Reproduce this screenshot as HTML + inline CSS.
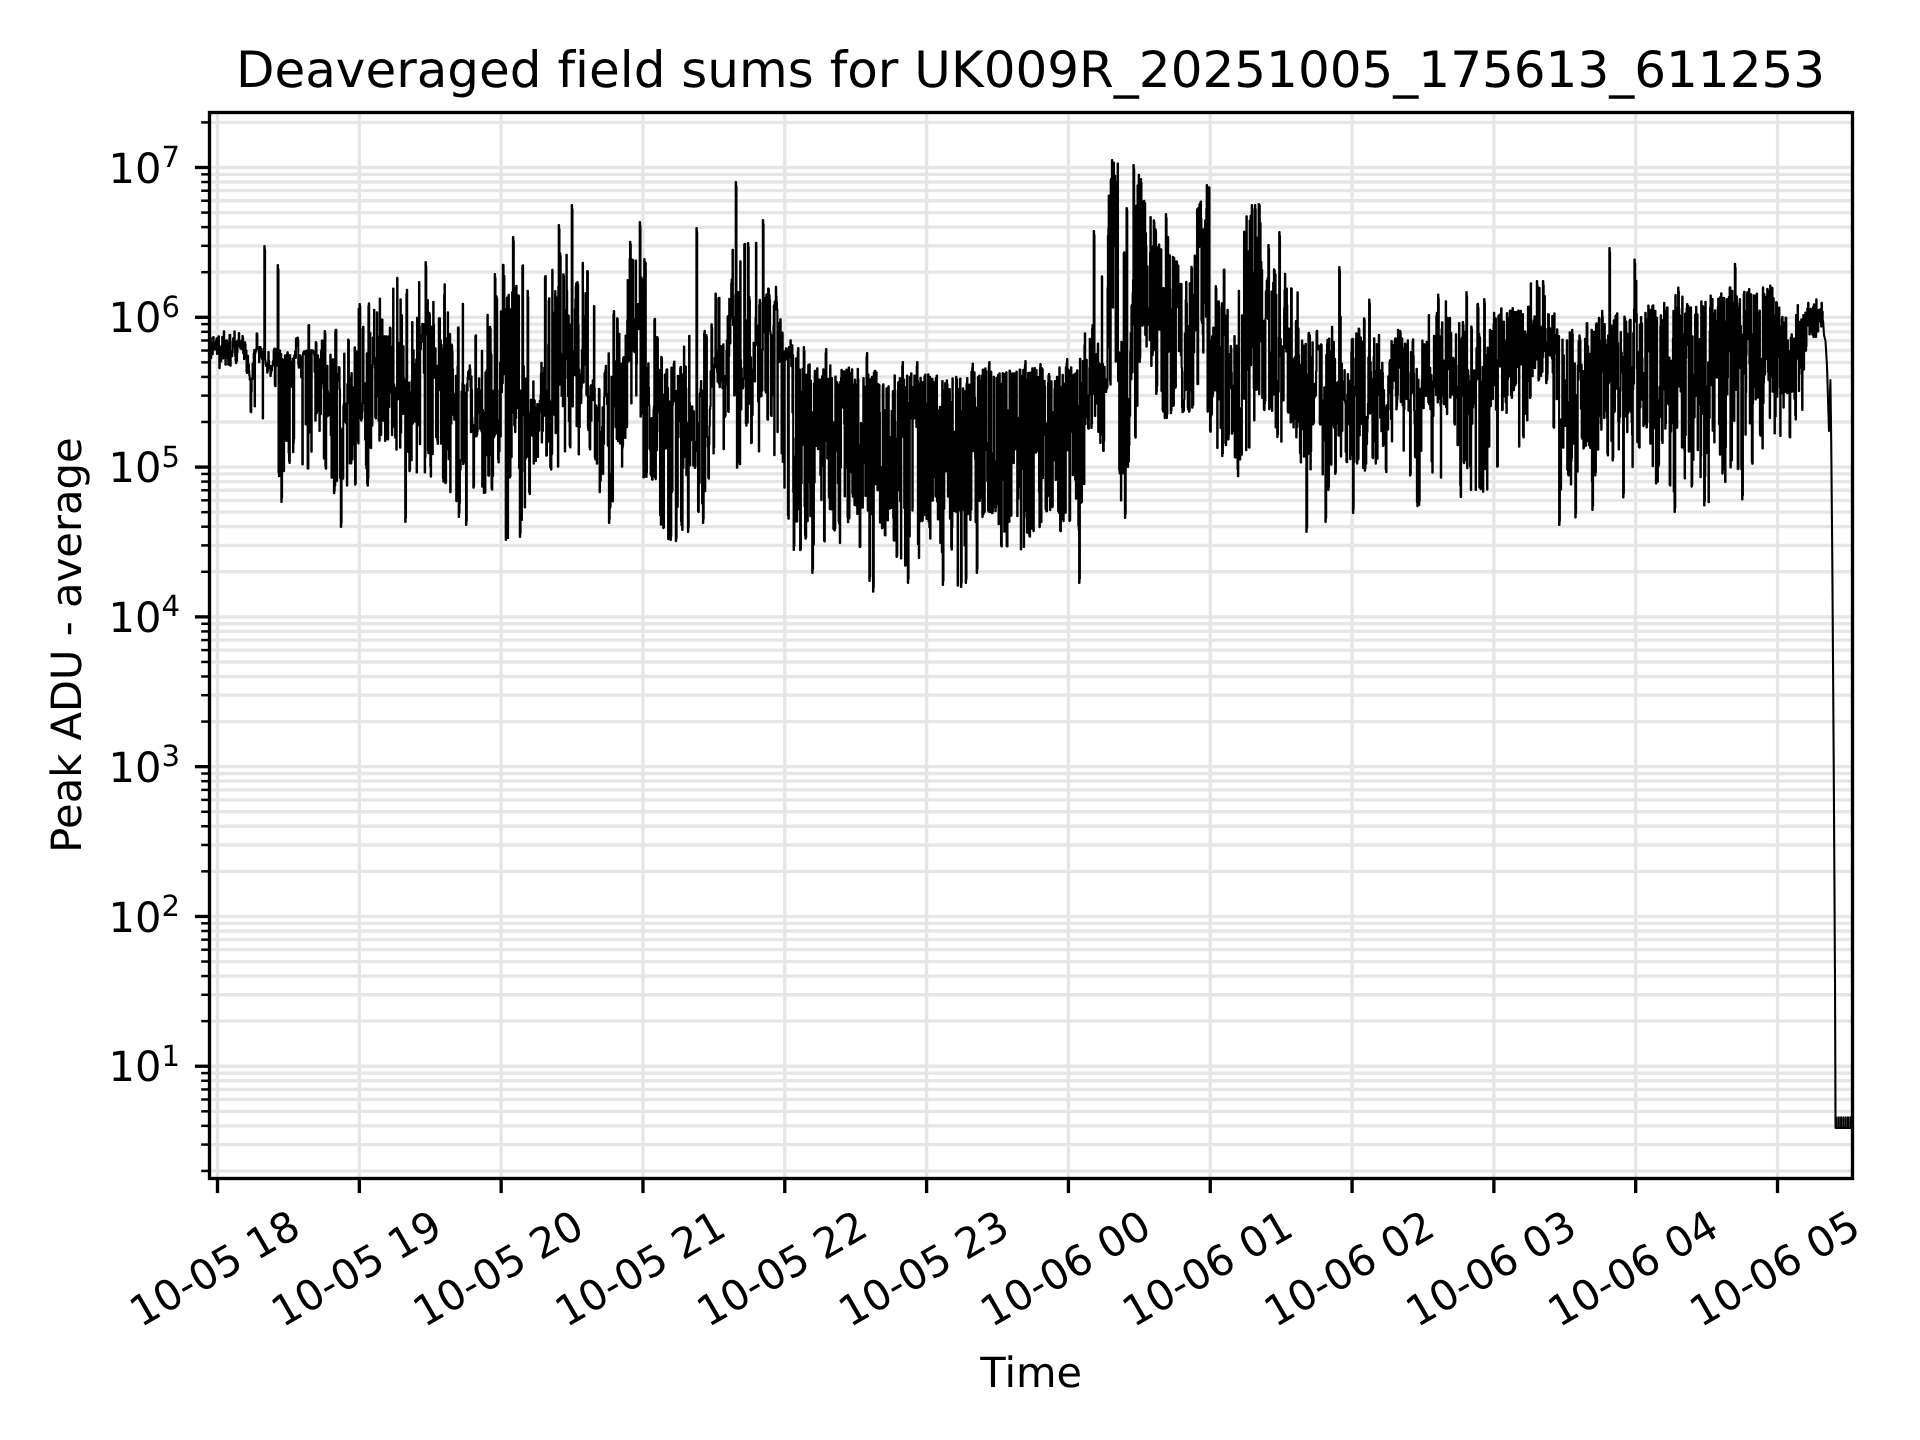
<!DOCTYPE html>
<html lang="en"><head><meta charset="utf-8"><title>Deaveraged field sums for UK009R_20251005_175613_611253</title>
<style>html,body{margin:0;padding:0;background:#fff;}svg{display:block;will-change:transform;}text{font-family:"DejaVu Sans", "Liberation Sans", sans-serif;fill:#000;text-rendering:geometricPrecision;font-variant-ligatures:none;font-feature-settings:"liga" 0,"clig" 0;}</style></head><body>
<svg width="1920" height="1440" viewBox="0 0 1920 1440">
<rect x="0" y="0" width="1920" height="1440" fill="#ffffff"/>
<defs><clipPath id="ax"><rect x="209.50" y="112.50" width="1643.00" height="1066.00"/></clipPath></defs>
<g clip-path="url(#ax)" stroke="#e6e6e6" stroke-width="3.33" fill="none">
<line x1="217.50" y1="112.50" x2="217.50" y2="1178.50"/>
<line x1="359.32" y1="112.50" x2="359.32" y2="1178.50"/>
<line x1="501.14" y1="112.50" x2="501.14" y2="1178.50"/>
<line x1="642.96" y1="112.50" x2="642.96" y2="1178.50"/>
<line x1="784.78" y1="112.50" x2="784.78" y2="1178.50"/>
<line x1="926.60" y1="112.50" x2="926.60" y2="1178.50"/>
<line x1="1068.42" y1="112.50" x2="1068.42" y2="1178.50"/>
<line x1="1210.24" y1="112.50" x2="1210.24" y2="1178.50"/>
<line x1="1352.06" y1="112.50" x2="1352.06" y2="1178.50"/>
<line x1="1493.88" y1="112.50" x2="1493.88" y2="1178.50"/>
<line x1="1635.70" y1="112.50" x2="1635.70" y2="1178.50"/>
<line x1="1777.52" y1="112.50" x2="1777.52" y2="1178.50"/>
<line x1="209.50" y1="1066.24" x2="1852.50" y2="1066.24"/>
<line x1="209.50" y1="916.45" x2="1852.50" y2="916.45"/>
<line x1="209.50" y1="766.66" x2="1852.50" y2="766.66"/>
<line x1="209.50" y1="616.87" x2="1852.50" y2="616.87"/>
<line x1="209.50" y1="467.08" x2="1852.50" y2="467.08"/>
<line x1="209.50" y1="317.29" x2="1852.50" y2="317.29"/>
<line x1="209.50" y1="167.50" x2="1852.50" y2="167.50"/>
<line x1="209.50" y1="1170.94" x2="1852.50" y2="1170.94"/>
<line x1="209.50" y1="1144.56" x2="1852.50" y2="1144.56"/>
<line x1="209.50" y1="1125.85" x2="1852.50" y2="1125.85"/>
<line x1="209.50" y1="1111.33" x2="1852.50" y2="1111.33"/>
<line x1="209.50" y1="1099.47" x2="1852.50" y2="1099.47"/>
<line x1="209.50" y1="1089.44" x2="1852.50" y2="1089.44"/>
<line x1="209.50" y1="1080.76" x2="1852.50" y2="1080.76"/>
<line x1="209.50" y1="1073.09" x2="1852.50" y2="1073.09"/>
<line x1="209.50" y1="1021.15" x2="1852.50" y2="1021.15"/>
<line x1="209.50" y1="994.77" x2="1852.50" y2="994.77"/>
<line x1="209.50" y1="976.06" x2="1852.50" y2="976.06"/>
<line x1="209.50" y1="961.54" x2="1852.50" y2="961.54"/>
<line x1="209.50" y1="949.68" x2="1852.50" y2="949.68"/>
<line x1="209.50" y1="939.65" x2="1852.50" y2="939.65"/>
<line x1="209.50" y1="930.97" x2="1852.50" y2="930.97"/>
<line x1="209.50" y1="923.30" x2="1852.50" y2="923.30"/>
<line x1="209.50" y1="871.36" x2="1852.50" y2="871.36"/>
<line x1="209.50" y1="844.98" x2="1852.50" y2="844.98"/>
<line x1="209.50" y1="826.27" x2="1852.50" y2="826.27"/>
<line x1="209.50" y1="811.75" x2="1852.50" y2="811.75"/>
<line x1="209.50" y1="799.89" x2="1852.50" y2="799.89"/>
<line x1="209.50" y1="789.86" x2="1852.50" y2="789.86"/>
<line x1="209.50" y1="781.18" x2="1852.50" y2="781.18"/>
<line x1="209.50" y1="773.51" x2="1852.50" y2="773.51"/>
<line x1="209.50" y1="721.57" x2="1852.50" y2="721.57"/>
<line x1="209.50" y1="695.19" x2="1852.50" y2="695.19"/>
<line x1="209.50" y1="676.48" x2="1852.50" y2="676.48"/>
<line x1="209.50" y1="661.96" x2="1852.50" y2="661.96"/>
<line x1="209.50" y1="650.10" x2="1852.50" y2="650.10"/>
<line x1="209.50" y1="640.07" x2="1852.50" y2="640.07"/>
<line x1="209.50" y1="631.39" x2="1852.50" y2="631.39"/>
<line x1="209.50" y1="623.72" x2="1852.50" y2="623.72"/>
<line x1="209.50" y1="571.78" x2="1852.50" y2="571.78"/>
<line x1="209.50" y1="545.40" x2="1852.50" y2="545.40"/>
<line x1="209.50" y1="526.69" x2="1852.50" y2="526.69"/>
<line x1="209.50" y1="512.17" x2="1852.50" y2="512.17"/>
<line x1="209.50" y1="500.31" x2="1852.50" y2="500.31"/>
<line x1="209.50" y1="490.28" x2="1852.50" y2="490.28"/>
<line x1="209.50" y1="481.60" x2="1852.50" y2="481.60"/>
<line x1="209.50" y1="473.93" x2="1852.50" y2="473.93"/>
<line x1="209.50" y1="421.99" x2="1852.50" y2="421.99"/>
<line x1="209.50" y1="395.61" x2="1852.50" y2="395.61"/>
<line x1="209.50" y1="376.90" x2="1852.50" y2="376.90"/>
<line x1="209.50" y1="362.38" x2="1852.50" y2="362.38"/>
<line x1="209.50" y1="350.52" x2="1852.50" y2="350.52"/>
<line x1="209.50" y1="340.49" x2="1852.50" y2="340.49"/>
<line x1="209.50" y1="331.81" x2="1852.50" y2="331.81"/>
<line x1="209.50" y1="324.14" x2="1852.50" y2="324.14"/>
<line x1="209.50" y1="272.20" x2="1852.50" y2="272.20"/>
<line x1="209.50" y1="245.82" x2="1852.50" y2="245.82"/>
<line x1="209.50" y1="227.11" x2="1852.50" y2="227.11"/>
<line x1="209.50" y1="212.59" x2="1852.50" y2="212.59"/>
<line x1="209.50" y1="200.73" x2="1852.50" y2="200.73"/>
<line x1="209.50" y1="190.70" x2="1852.50" y2="190.70"/>
<line x1="209.50" y1="182.02" x2="1852.50" y2="182.02"/>
<line x1="209.50" y1="174.35" x2="1852.50" y2="174.35"/>
<line x1="209.50" y1="122.41" x2="1852.50" y2="122.41"/>
</g>
<g clip-path="url(#ax)"><polyline fill="none" stroke="#000" stroke-width="2.08" stroke-linejoin="round" stroke-linecap="butt" points="209.6,353.9 210.0,353.9 210.0,343.6 210.4,343.6 210.4,337.9 210.8,337.9 210.8,358.3 211.2,358.3 211.2,348.2 211.6,348.2 211.6,353.2 212.0,353.2 212.0,342.9 212.4,342.9 212.4,354.2 212.8,354.2 212.8,347.9 213.2,347.9 213.2,337.0 213.7,337.0 213.7,342.4 214.1,342.4 214.1,349.8 214.5,349.8 214.5,348.6 214.9,348.6 214.9,344.6 215.3,344.6 215.3,349.2 215.7,349.2 215.7,345.5 216.1,345.5 216.1,340.6 216.5,340.6 216.5,338.4 216.9,338.4 216.9,354.0 217.3,354.0 217.3,351.3 217.7,351.3 217.7,351.7 218.1,351.7 218.1,352.1 218.5,352.1 218.5,336.3 218.9,336.3 218.9,345.6 219.3,345.6 219.3,368.2 219.7,368.2 219.7,347.0 220.1,347.0 220.1,354.8 220.5,354.8 220.5,359.4 220.9,359.4 220.9,361.4 221.3,361.4 221.3,349.0 221.8,349.0 221.8,345.6 222.2,345.6 222.2,336.9 222.6,336.9 222.6,342.7 223.0,342.7 223.0,358.5 223.4,358.5 223.4,346.6 223.8,346.6 223.8,331.2 224.2,331.2 224.2,340.3 224.6,340.3 224.6,353.0 225.0,353.0 225.0,348.3 225.4,348.3 225.4,364.7 225.8,364.7 225.8,354.2 226.2,354.2 226.2,351.3 226.6,351.3 226.6,340.2 227.0,340.2 227.0,341.8 227.4,341.8 227.4,353.3 227.8,353.3 227.8,358.6 228.2,358.6 228.2,364.7 228.6,364.7 228.6,362.9 229.0,362.9 229.0,359.8 229.4,359.8 229.4,335.0 229.9,335.0 229.9,334.9 230.3,334.9 230.3,365.8 230.7,365.8 230.7,351.5 231.1,351.5 231.1,356.1 231.5,356.1 231.5,351.3 231.9,351.3 231.9,356.2 232.3,356.2 232.3,352.6 232.7,352.6 232.7,341.3 233.1,341.3 233.1,338.2 233.5,338.2 233.5,347.1 233.9,347.1 233.9,343.5 234.3,343.5 234.3,331.2 234.7,331.2 234.7,344.2 235.1,344.2 235.1,356.3 235.5,356.3 235.5,360.8 235.9,360.8 235.9,363.1 236.3,363.1 236.3,341.3 236.7,341.3 236.7,360.8 237.1,360.8 237.1,352.7 237.5,352.7 237.5,342.2 238.0,342.2 238.0,341.7 238.4,341.7 238.4,339.0 238.8,339.0 238.8,333.1 239.2,333.1 239.2,341.4 239.6,341.4 239.6,346.8 240.0,346.8 240.0,345.9 240.4,345.9 240.4,348.8 240.8,348.8 240.8,347.1 241.2,347.1 241.2,341.3 241.6,341.3 241.6,340.0 242.0,340.0 242.0,349.4 242.4,349.4 242.4,336.0 242.8,336.0 242.8,338.0 243.2,338.0 243.2,353.3 243.6,353.3 243.6,354.1 244.0,354.1 244.0,359.1 244.4,359.1 244.4,355.4 244.8,355.4 244.8,342.2 245.2,342.2 245.2,344.4 245.6,344.4 245.6,351.2 246.1,351.2 246.1,350.5 246.5,350.5 246.5,371.9 246.9,371.9 246.9,372.9 247.3,372.9 247.3,359.0 247.7,359.0 247.7,355.9 248.1,355.9 248.1,365.2 248.5,365.2 248.5,364.4 248.9,364.4 248.9,371.2 249.3,371.2 249.3,375.7 249.7,375.7 249.7,379.8 250.1,379.8 250.1,380.3 250.5,380.3 250.5,411.5 250.9,411.5 250.9,412.3 251.3,412.3 251.3,391.7 251.7,391.7 251.7,378.0 252.1,378.0 252.1,379.2 252.5,379.2 252.5,363.6 252.9,363.6 252.9,364.1 253.3,364.1 253.3,364.4 253.7,364.4 253.7,353.2 254.2,353.2 254.2,350.0 254.6,350.0 254.6,406.5 255.0,406.5 255.0,354.1 255.4,354.1 255.4,351.9 255.8,351.9 255.8,349.7 256.2,349.7 256.2,348.7 256.6,348.7 256.6,333.4 257.0,333.4 257.0,333.9 257.4,333.9 257.4,348.1 257.8,348.1 257.8,347.1 258.2,347.1 258.2,349.7 258.6,349.7 258.6,351.9 259.0,351.9 259.0,362.2 259.4,362.2 259.4,349.3 259.8,349.3 259.8,347.0 260.2,347.0 260.2,347.0 260.6,347.0 260.6,352.0 261.0,352.0 261.0,348.9 261.4,348.9 261.4,356.9 261.8,356.9 261.8,358.6 262.3,358.6 262.3,360.0 262.7,360.0 262.7,418.4 263.1,418.4 263.1,353.4 263.5,353.4 263.5,351.3 263.9,351.3 263.9,348.4 264.3,348.4 264.3,246.0 264.7,246.0 264.7,250.0 265.1,250.0 265.1,360.0 265.5,360.0 265.5,363.9 265.9,363.9 265.9,366.0 266.3,366.0 266.3,366.3 266.7,366.3 266.7,363.6 267.1,363.6 267.1,372.8 267.5,372.8 267.5,371.2 267.9,371.2 267.9,365.5 268.3,365.5 268.3,352.1 268.7,352.1 268.7,360.9 269.1,360.9 269.1,367.0 269.5,367.0 269.5,368.2 269.9,368.2 269.9,365.7 270.4,365.7 270.4,375.9 270.8,375.9 270.8,373.7 271.2,373.7 271.2,367.2 271.6,367.2 271.6,370.5 272.0,370.5 272.0,366.6 272.4,366.6 272.4,365.5 272.8,365.5 272.8,361.9 273.2,361.9 273.2,360.5 273.6,360.5 273.6,350.9 274.0,350.9 274.0,349.2 274.4,349.2 274.4,348.5 274.8,348.5 274.8,384.9 275.2,384.9 275.2,386.3 275.6,386.3 275.6,351.6 276.0,351.6 276.0,349.2 276.4,349.2 276.4,364.7 276.8,364.7 276.8,362.9 277.2,362.9 277.2,365.7 277.6,365.7 277.6,265.0 278.0,265.0 278.0,269.0 278.5,269.0 278.5,472.5 278.9,472.5 278.9,476.2 279.3,476.2 279.3,357.5 279.7,357.5 279.7,350.6 280.1,350.6 280.1,363.0 280.5,363.0 280.5,355.9 280.9,355.9 280.9,354.0 281.3,354.0 281.3,502.0 281.7,502.0 281.7,498.0 282.1,498.0 282.1,359.0 282.5,359.0 282.5,360.0 282.9,360.0 282.9,378.4 283.3,378.4 283.3,378.7 283.7,378.7 283.7,471.1 284.1,471.1 284.1,364.3 284.5,364.3 284.5,374.9 284.9,374.9 284.9,355.3 285.3,355.3 285.3,356.4 285.7,356.4 285.7,438.8 286.1,438.8 286.1,441.0 286.6,441.0 286.6,359.7 287.0,359.7 287.0,354.5 287.4,354.5 287.4,352.2 287.8,352.2 287.8,362.4 288.2,362.4 288.2,360.9 288.6,360.9 288.6,452.8 289.0,452.8 289.0,461.0 289.4,461.0 289.4,463.0 289.8,463.0 289.8,355.1 290.2,355.1 290.2,368.6 290.6,368.6 290.6,361.7 291.0,361.7 291.0,369.7 291.4,369.7 291.4,386.7 291.8,386.7 291.8,368.3 292.2,368.3 292.2,382.2 292.6,382.2 292.6,358.6 293.0,358.6 293.0,452.2 293.4,452.2 293.4,443.3 293.8,443.3 293.8,438.9 294.2,438.9 294.2,355.7 294.7,355.7 294.7,354.6 295.1,354.6 295.1,351.2 295.5,351.2 295.5,357.9 295.9,357.9 295.9,338.6 296.3,338.6 296.3,338.4 296.7,338.4 296.7,342.9 297.1,342.9 297.1,345.6 297.5,345.6 297.5,337.5 297.9,337.5 297.9,340.0 298.3,340.0 298.3,364.8 298.7,364.8 298.7,367.7 299.1,367.7 299.1,359.4 299.5,359.4 299.5,358.0 299.9,358.0 299.9,355.4 300.3,355.4 300.3,356.8 300.7,356.8 300.7,366.2 301.1,366.2 301.1,377.3 301.5,377.3 301.5,363.8 301.9,363.8 301.9,367.4 302.3,367.4 302.3,464.4 302.8,464.4 302.8,354.3 303.2,354.3 303.2,352.2 303.6,352.2 303.6,354.2 304.0,354.2 304.0,351.3 304.4,351.3 304.4,351.2 304.8,351.2 304.8,354.4 305.2,354.4 305.2,353.4 305.6,353.4 305.6,424.5 306.0,424.5 306.0,422.5 306.4,422.5 306.4,350.5 306.8,350.5 306.8,350.9 307.2,350.9 307.2,352.3 307.6,352.3 307.6,468.4 308.0,468.4 308.0,468.6 308.4,468.6 308.4,325.3 308.8,325.3 308.8,325.0 309.2,325.0 309.2,432.6 309.6,432.6 309.6,351.0 310.0,351.0 310.0,351.6 310.4,351.6 310.4,350.3 310.9,350.3 310.9,350.3 311.3,350.3 311.3,451.7 311.7,451.7 311.7,350.3 312.1,350.3 312.1,351.7 312.5,351.7 312.5,352.3 312.9,352.3 312.9,350.5 313.3,350.5 313.3,351.3 313.7,351.3 313.7,352.8 314.1,352.8 314.1,354.9 314.5,354.9 314.5,372.1 314.9,372.1 314.9,371.9 315.3,371.9 315.3,420.8 315.7,420.8 315.7,342.1 316.1,342.1 316.1,343.0 316.5,343.0 316.5,413.3 316.9,413.3 316.9,411.3 317.3,411.3 317.3,356.1 317.7,356.1 317.7,355.4 318.1,355.4 318.1,358.5 318.5,358.5 318.5,362.5 319.0,362.5 319.0,359.3 319.4,359.3 319.4,430.9 319.8,430.9 319.8,364.3 320.2,364.3 320.2,414.5 320.6,414.5 320.6,414.3 321.0,414.3 321.0,351.4 321.4,351.4 321.4,349.7 321.8,349.7 321.8,340.5 322.2,340.5 322.2,340.5 322.6,340.5 322.6,375.3 323.0,375.3 323.0,383.9 323.4,383.9 323.4,388.4 323.8,388.4 323.8,458.6 324.2,458.6 324.2,397.7 324.6,397.7 324.6,331.1 325.0,331.1 325.0,333.3 325.4,333.3 325.4,466.8 325.8,466.8 325.8,468.7 326.2,468.7 326.2,415.8 326.6,415.8 326.6,416.7 327.1,416.7 327.1,365.7 327.5,365.7 327.5,390.7 327.9,390.7 327.9,395.2 328.3,395.2 328.3,415.6 328.7,415.6 328.7,408.7 329.1,408.7 329.1,393.8 329.5,393.8 329.5,399.3 329.9,399.3 329.9,411.5 330.3,411.5 330.3,354.5 330.7,354.5 330.7,435.2 331.1,435.2 331.1,412.5 331.5,412.5 331.5,477.7 331.9,477.7 331.9,476.7 332.3,476.7 332.3,381.8 332.7,381.8 332.7,359.2 333.1,359.2 333.1,477.4 333.5,477.4 333.5,476.1 333.9,476.1 333.9,493.2 334.3,493.2 334.3,491.0 334.7,491.0 334.7,485.8 335.2,485.8 335.2,331.9 335.6,331.9 335.6,329.7 336.0,329.7 336.0,329.9 336.4,329.9 336.4,481.2 336.8,481.2 336.8,480.7 337.2,480.7 337.2,374.5 337.6,374.5 337.6,374.4 338.0,374.4 338.0,380.2 338.4,380.2 338.4,381.1 338.8,381.1 338.8,367.1 339.2,367.1 339.2,367.8 339.6,367.8 339.6,389.0 340.0,389.0 340.0,478.1 340.4,478.1 340.4,454.7 340.8,454.7 340.8,527.0 341.2,527.0 341.2,523.0 341.6,523.0 341.6,439.0 342.0,439.0 342.0,429.9 342.4,429.9 342.4,428.1 342.8,428.1 342.8,478.8 343.3,478.8 343.3,406.4 343.7,406.4 343.7,404.1 344.1,404.1 344.1,353.5 344.5,353.5 344.5,413.3 344.9,413.3 344.9,403.2 345.3,403.2 345.3,422.0 345.7,422.0 345.7,419.4 346.1,419.4 346.1,423.4 346.5,423.4 346.5,414.4 346.9,414.4 346.9,485.6 347.3,485.6 347.3,384.1 347.7,384.1 347.7,396.5 348.1,396.5 348.1,339.6 348.5,339.6 348.5,340.8 348.9,340.8 348.9,402.9 349.3,402.9 349.3,393.9 349.7,393.9 349.7,463.4 350.1,463.4 350.1,379.6 350.5,379.6 350.5,377.4 350.9,377.4 350.9,463.5 351.4,463.5 351.4,373.1 351.8,373.1 351.8,392.5 352.2,392.5 352.2,459.4 352.6,459.4 352.6,387.4 353.0,387.4 353.0,444.6 353.4,444.6 353.4,399.0 353.8,399.0 353.8,419.5 354.2,419.5 354.2,419.9 354.6,419.9 354.6,347.2 355.0,347.2 355.0,484.7 355.4,484.7 355.4,483.7 355.8,483.7 355.8,430.6 356.2,430.6 356.2,418.7 356.6,418.7 356.6,351.2 357.0,351.2 357.0,411.3 357.4,411.3 357.4,418.5 357.8,418.5 357.8,441.6 358.2,441.6 358.2,443.4 358.6,443.4 358.6,308.9 359.0,308.9 359.0,310.7 359.5,310.7 359.5,304.0 359.9,304.0 359.9,306.2 360.3,306.2 360.3,403.0 360.7,403.0 360.7,418.8 361.1,418.8 361.1,420.6 361.5,420.6 361.5,416.5 361.9,416.5 361.9,418.2 362.3,418.2 362.3,411.3 362.7,411.3 362.7,328.9 363.1,328.9 363.1,326.7 363.5,326.7 363.5,403.3 363.9,403.3 363.9,398.0 364.3,398.0 364.3,387.8 364.7,387.8 364.7,383.4 365.1,383.4 365.1,439.8 365.5,439.8 365.5,437.1 365.9,437.1 365.9,465.2 366.3,465.2 366.3,468.6 366.7,468.6 366.7,353.3 367.1,353.3 367.1,483.8 367.6,483.8 367.6,485.7 368.0,485.7 368.0,478.6 368.4,478.6 368.4,306.1 368.8,306.1 368.8,303.4 369.2,303.4 369.2,338.2 369.6,338.2 369.6,349.6 370.0,349.6 370.0,333.1 370.4,333.1 370.4,447.8 370.8,447.8 370.8,448.1 371.2,448.1 371.2,369.9 371.6,369.9 371.6,425.8 372.0,425.8 372.0,425.8 372.4,425.8 372.4,364.5 372.8,364.5 372.8,337.6 373.2,337.6 373.2,340.6 373.6,340.6 373.6,346.3 374.0,346.3 374.0,309.7 374.4,309.7 374.4,357.6 374.8,357.6 374.8,367.9 375.2,367.9 375.2,417.1 375.7,417.1 375.7,418.4 376.1,418.4 376.1,396.8 376.5,396.8 376.5,370.9 376.9,370.9 376.9,312.4 377.3,312.4 377.3,357.3 377.7,357.3 377.7,349.2 378.1,349.2 378.1,342.8 378.5,342.8 378.5,420.8 378.9,420.8 378.9,336.6 379.3,336.6 379.3,440.8 379.7,440.8 379.7,298.6 380.1,298.6 380.1,415.8 380.5,415.8 380.5,414.8 380.9,414.8 380.9,435.0 381.3,435.0 381.3,337.1 381.7,337.1 381.7,319.6 382.1,319.6 382.1,319.5 382.5,319.5 382.5,419.7 382.9,419.7 382.9,420.6 383.3,420.6 383.3,336.2 383.8,336.2 383.8,420.0 384.2,420.0 384.2,420.7 384.6,420.7 384.6,336.3 385.0,336.3 385.0,440.9 385.4,440.9 385.4,440.0 385.8,440.0 385.8,336.2 386.2,336.2 386.2,343.7 386.6,343.7 386.6,404.9 387.0,404.9 387.0,404.8 387.4,404.8 387.4,435.6 387.8,435.6 387.8,439.4 388.2,439.4 388.2,336.4 388.6,336.4 388.6,407.0 389.0,407.0 389.0,407.1 389.4,407.1 389.4,379.7 389.8,379.7 389.8,327.6 390.2,327.6 390.2,328.1 390.6,328.1 390.6,392.4 391.0,392.4 391.0,390.6 391.4,390.6 391.4,365.5 391.9,365.5 391.9,435.2 392.3,435.2 392.3,362.0 392.7,362.0 392.7,346.1 393.1,346.1 393.1,288.6 393.5,288.6 393.5,391.9 393.9,391.9 393.9,384.4 394.3,384.4 394.3,427.0 394.7,427.0 394.7,425.5 395.1,425.5 395.1,437.7 395.5,437.7 395.5,435.5 395.9,435.5 395.9,387.8 396.3,387.8 396.3,449.7 396.7,449.7 396.7,392.7 397.1,392.7 397.1,277.8 397.5,277.8 397.5,399.4 397.9,399.4 397.9,396.5 398.3,396.5 398.3,384.6 398.7,384.6 398.7,378.6 399.1,378.6 399.1,349.5 399.5,349.5 399.5,342.6 400.0,342.6 400.0,447.8 400.4,447.8 400.4,299.3 400.8,299.3 400.8,432.8 401.2,432.8 401.2,339.3 401.6,339.3 401.6,315.2 402.0,315.2 402.0,350.4 402.4,350.4 402.4,413.8 402.8,413.8 402.8,414.0 403.2,414.0 403.2,346.4 403.6,346.4 403.6,377.7 404.0,377.7 404.0,397.1 404.4,397.1 404.4,404.2 404.8,404.2 404.8,380.4 405.2,380.4 405.2,522.0 405.6,522.0 405.6,518.0 406.0,518.0 406.0,381.2 406.4,381.2 406.4,293.8 406.8,293.8 406.8,289.7 407.2,289.7 407.2,392.2 407.6,392.2 407.6,449.3 408.1,449.3 408.1,451.9 408.5,451.9 408.5,407.3 408.9,407.3 408.9,382.5 409.3,382.5 409.3,471.1 409.7,471.1 409.7,470.1 410.1,470.1 410.1,392.1 410.5,392.1 410.5,443.0 410.9,443.0 410.9,420.5 411.3,420.5 411.3,460.3 411.7,460.3 411.7,380.3 412.1,380.3 412.1,322.1 412.5,322.1 412.5,423.8 412.9,423.8 412.9,368.8 413.3,368.8 413.3,350.2 413.7,350.2 413.7,363.5 414.1,363.5 414.1,409.0 414.5,409.0 414.5,421.6 414.9,421.6 414.9,410.9 415.3,410.9 415.3,411.7 415.7,411.7 415.7,406.9 416.2,406.9 416.2,359.4 416.6,359.4 416.6,472.4 417.0,472.4 417.0,317.9 417.4,317.9 417.4,356.8 417.8,356.8 417.8,425.2 418.2,425.2 418.2,424.1 418.6,424.1 418.6,339.9 419.0,339.9 419.0,282.1 419.4,282.1 419.4,326.9 419.8,326.9 419.8,444.3 420.2,444.3 420.2,340.0 420.6,340.0 420.6,349.2 421.0,349.2 421.0,335.5 421.4,335.5 421.4,337.1 421.8,337.1 421.8,341.8 422.2,341.8 422.2,323.8 422.6,323.8 422.6,338.3 423.0,338.3 423.0,331.7 423.4,331.7 423.4,324.0 423.8,324.0 423.8,373.0 424.3,373.0 424.3,347.1 424.7,347.1 424.7,472.4 425.1,472.4 425.1,457.1 425.5,457.1 425.5,262.0 425.9,262.0 425.9,266.0 426.3,266.0 426.3,334.4 426.7,334.4 426.7,304.9 427.1,304.9 427.1,301.4 427.5,301.4 427.5,300.0 427.9,300.0 427.9,450.8 428.3,450.8 428.3,453.3 428.7,453.3 428.7,448.7 429.1,448.7 429.1,312.9 429.5,312.9 429.5,314.3 429.9,314.3 429.9,328.3 430.3,328.3 430.3,466.5 430.7,466.5 430.7,476.6 431.1,476.6 431.1,326.5 431.5,326.5 431.5,330.3 431.9,330.3 431.9,450.6 432.4,450.6 432.4,454.3 432.8,454.3 432.8,335.6 433.2,335.6 433.2,301.7 433.6,301.7 433.6,324.9 434.0,324.9 434.0,377.8 434.4,377.8 434.4,348.7 434.8,348.7 434.8,348.6 435.2,348.6 435.2,348.4 435.6,348.4 435.6,370.6 436.0,370.6 436.0,437.3 436.4,437.3 436.4,369.7 436.8,369.7 436.8,365.8 437.2,365.8 437.2,440.2 437.6,440.2 437.6,444.0 438.0,444.0 438.0,372.1 438.4,372.1 438.4,390.5 438.8,390.5 438.8,318.2 439.2,318.2 439.2,319.9 439.6,319.9 439.6,318.4 440.0,318.4 440.0,352.4 440.5,352.4 440.5,340.4 440.9,340.4 440.9,443.8 441.3,443.8 441.3,344.9 441.7,344.9 441.7,364.7 442.1,364.7 442.1,348.7 442.5,348.7 442.5,360.4 442.9,360.4 442.9,478.5 443.3,478.5 443.3,481.6 443.7,481.6 443.7,366.2 444.1,366.2 444.1,295.0 444.5,295.0 444.5,284.2 444.9,284.2 444.9,345.9 445.3,345.9 445.3,483.2 445.7,483.2 445.7,482.5 446.1,482.5 446.1,338.3 446.5,338.3 446.5,367.1 446.9,367.1 446.9,449.3 447.3,449.3 447.3,348.6 447.7,348.6 447.7,312.4 448.1,312.4 448.1,349.1 448.6,349.1 448.6,459.2 449.0,459.2 449.0,459.3 449.4,459.3 449.4,334.1 449.8,334.1 449.8,334.0 450.2,334.0 450.2,492.2 450.6,492.2 450.6,351.3 451.0,351.3 451.0,423.7 451.4,423.7 451.4,344.5 451.8,344.5 451.8,345.9 452.2,345.9 452.2,351.7 452.6,351.7 452.6,369.4 453.0,369.4 453.0,393.2 453.4,393.2 453.4,415.1 453.8,415.1 453.8,408.6 454.2,408.6 454.2,419.8 454.6,419.8 454.6,418.7 455.0,418.7 455.0,407.8 455.4,407.8 455.4,393.3 455.8,393.3 455.8,375.8 456.2,375.8 456.2,501.1 456.7,501.1 456.7,428.8 457.1,428.8 457.1,427.3 457.5,427.3 457.5,366.4 457.9,366.4 457.9,327.6 458.3,327.6 458.3,327.2 458.7,327.2 458.7,517.0 459.1,517.0 459.1,513.0 459.5,513.0 459.5,503.5 459.9,503.5 459.9,470.7 460.3,470.7 460.3,469.4 460.7,469.4 460.7,460.1 461.1,460.1 461.1,460.3 461.5,460.3 461.5,391.6 461.9,391.6 461.9,417.7 462.3,417.7 462.3,383.3 462.7,383.3 462.7,303.7 463.1,303.7 463.1,464.3 463.5,464.3 463.5,463.0 463.9,463.0 463.9,385.4 464.3,385.4 464.3,405.8 464.8,405.8 464.8,410.0 465.2,410.0 465.2,393.3 465.6,393.3 465.6,446.1 466.0,446.1 466.0,525.0 466.4,525.0 466.4,521.0 466.8,521.0 466.8,384.1 467.2,384.1 467.2,390.8 467.6,390.8 467.6,377.4 468.0,377.4 468.0,371.7 468.4,371.7 468.4,378.9 468.8,378.9 468.8,370.4 469.2,370.4 469.2,372.9 469.6,372.9 469.6,365.4 470.0,365.4 470.0,369.1 470.4,369.1 470.4,386.9 470.8,386.9 470.8,432.2 471.2,432.2 471.2,376.6 471.6,376.6 471.6,389.9 472.0,389.9 472.0,417.2 472.4,417.2 472.4,427.4 472.9,427.4 472.9,424.8 473.3,424.8 473.3,487.8 473.7,487.8 473.7,486.1 474.1,486.1 474.1,435.5 474.5,435.5 474.5,436.4 474.9,436.4 474.9,435.4 475.3,435.4 475.3,336.1 475.7,336.1 475.7,335.2 476.1,335.2 476.1,436.4 476.5,436.4 476.5,435.8 476.9,435.8 476.9,434.5 477.3,434.5 477.3,431.3 477.7,431.3 477.7,402.9 478.1,402.9 478.1,388.7 478.5,388.7 478.5,393.4 478.9,393.4 478.9,378.3 479.3,378.3 479.3,412.0 479.7,412.0 479.7,413.2 480.1,413.2 480.1,429.0 480.5,429.0 480.5,424.8 481.0,424.8 481.0,390.2 481.4,390.2 481.4,431.4 481.8,431.4 481.8,350.8 482.2,350.8 482.2,486.7 482.6,486.7 482.6,409.9 483.0,409.9 483.0,411.9 483.4,411.9 483.4,415.8 483.8,415.8 483.8,493.0 484.2,493.0 484.2,491.3 484.6,491.3 484.6,491.0 485.0,491.0 485.0,492.8 485.4,492.8 485.4,372.3 485.8,372.3 485.8,379.5 486.2,379.5 486.2,453.4 486.6,453.4 486.6,370.1 487.0,370.1 487.0,455.2 487.4,455.2 487.4,314.9 487.8,314.9 487.8,358.9 488.2,358.9 488.2,475.6 488.6,475.6 488.6,475.8 489.1,475.8 489.1,455.8 489.5,455.8 489.5,353.0 489.9,353.0 489.9,326.9 490.3,326.9 490.3,328.9 490.7,328.9 490.7,353.2 491.1,353.2 491.1,354.7 491.5,354.7 491.5,488.6 491.9,488.6 491.9,489.8 492.3,489.8 492.3,417.8 492.7,417.8 492.7,475.9 493.1,475.9 493.1,390.9 493.5,390.9 493.5,437.5 493.9,437.5 493.9,432.3 494.3,432.3 494.3,435.9 494.7,435.9 494.7,274.0 495.1,274.0 495.1,278.0 495.5,278.0 495.5,433.7 495.9,433.7 495.9,398.0 496.3,398.0 496.3,296.3 496.7,296.3 496.7,298.8 497.2,298.8 497.2,426.1 497.6,426.1 497.6,420.3 498.0,420.3 498.0,459.3 498.4,459.3 498.4,462.4 498.8,462.4 498.8,450.2 499.2,450.2 499.2,451.3 499.6,451.3 499.6,390.2 500.0,390.2 500.0,362.6 500.4,362.6 500.4,436.4 500.8,436.4 500.8,311.3 501.2,311.3 501.2,339.8 501.6,339.8 501.6,392.3 502.0,392.3 502.0,376.5 502.4,376.5 502.4,383.2 502.8,383.2 502.8,264.9 503.2,264.9 503.2,265.1 503.6,265.1 503.6,276.8 504.0,276.8 504.0,275.9 504.4,275.9 504.4,374.3 504.8,374.3 504.8,325.4 505.3,325.4 505.3,309.3 505.7,309.3 505.7,540.0 506.1,540.0 506.1,536.0 506.5,536.0 506.5,313.9 506.9,313.9 506.9,297.5 507.3,297.5 507.3,537.8 507.7,537.8 507.7,537.9 508.1,537.9 508.1,305.8 508.5,305.8 508.5,294.8 508.9,294.8 508.9,470.6 509.3,470.6 509.3,471.7 509.7,471.7 509.7,477.5 510.1,477.5 510.1,476.4 510.5,476.4 510.5,309.4 510.9,309.4 510.9,457.4 511.3,457.4 511.3,457.2 511.7,457.2 511.7,310.1 512.1,310.1 512.1,292.0 512.5,292.0 512.5,293.8 512.9,293.8 512.9,237.0 513.4,237.0 513.4,241.0 513.8,241.0 513.8,413.5 514.2,413.5 514.2,425.2 514.6,425.2 514.6,425.5 515.0,425.5 515.0,432.1 515.4,432.1 515.4,287.9 515.8,287.9 515.8,418.2 516.2,418.2 516.2,285.8 516.6,285.8 516.6,372.3 517.0,372.3 517.0,388.3 517.4,388.3 517.4,407.9 517.8,407.9 517.8,393.0 518.2,393.0 518.2,295.3 518.6,295.3 518.6,295.7 519.0,295.7 519.0,467.9 519.4,467.9 519.4,466.8 519.8,466.8 519.8,537.0 520.2,537.0 520.2,533.0 520.6,533.0 520.6,390.6 521.0,390.6 521.0,481.7 521.5,481.7 521.5,520.1 521.9,520.1 521.9,407.0 522.3,407.0 522.3,265.8 522.7,265.8 522.7,265.4 523.1,265.4 523.1,415.3 523.5,415.3 523.5,366.0 523.9,366.0 523.9,378.9 524.3,378.9 524.3,471.6 524.7,471.6 524.7,507.5 525.1,507.5 525.1,378.6 525.5,378.6 525.5,458.6 525.9,458.6 525.9,408.1 526.3,408.1 526.3,414.5 526.7,414.5 526.7,416.6 527.1,416.6 527.1,456.8 527.5,456.8 527.5,290.8 527.9,290.8 527.9,297.3 528.3,297.3 528.3,444.5 528.7,444.5 528.7,444.0 529.1,444.0 529.1,492.1 529.6,492.1 529.6,494.1 530.0,494.1 530.0,415.5 530.4,415.5 530.4,412.1 530.8,412.1 530.8,399.6 531.2,399.6 531.2,435.2 531.6,435.2 531.6,418.1 532.0,418.1 532.0,418.1 532.4,418.1 532.4,435.9 532.8,435.9 532.8,436.3 533.2,436.3 533.2,381.4 533.6,381.4 533.6,463.6 534.0,463.6 534.0,403.4 534.4,403.4 534.4,400.4 534.8,400.4 534.8,407.6 535.2,407.6 535.2,412.9 535.6,412.9 535.6,461.0 536.0,461.0 536.0,430.6 536.4,430.6 536.4,439.9 536.8,439.9 536.8,437.1 537.2,437.1 537.2,404.0 537.7,404.0 537.7,456.9 538.1,456.9 538.1,409.5 538.5,409.5 538.5,431.3 538.9,431.3 538.9,430.5 539.3,430.5 539.3,409.2 539.7,409.2 539.7,400.8 540.1,400.8 540.1,412.3 540.5,412.3 540.5,395.6 540.9,395.6 540.9,373.8 541.3,373.8 541.3,362.8 541.7,362.8 541.7,442.4 542.1,442.4 542.1,373.0 542.5,373.0 542.5,431.1 542.9,431.1 542.9,381.1 543.3,381.1 543.3,380.7 543.7,380.7 543.7,415.9 544.1,415.9 544.1,367.5 544.5,367.5 544.5,388.1 544.9,388.1 544.9,277.1 545.3,277.1 545.3,276.1 545.8,276.1 545.8,404.8 546.2,404.8 546.2,455.8 546.6,455.8 546.6,455.3 547.0,455.3 547.0,390.9 547.4,390.9 547.4,442.1 547.8,442.1 547.8,441.5 548.2,441.5 548.2,344.8 548.6,344.8 548.6,300.4 549.0,300.4 549.0,298.3 549.4,298.3 549.4,400.1 549.8,400.1 549.8,401.6 550.2,401.6 550.2,467.5 550.6,467.5 550.6,466.3 551.0,466.3 551.0,469.6 551.4,469.6 551.4,454.8 551.8,454.8 551.8,454.1 552.2,454.1 552.2,269.9 552.6,269.9 552.6,355.0 553.0,355.0 553.0,374.2 553.4,374.2 553.4,318.7 553.9,318.7 553.9,312.7 554.3,312.7 554.3,414.9 554.7,414.9 554.7,414.8 555.1,414.8 555.1,291.1 555.5,291.1 555.5,433.2 555.9,433.2 555.9,432.0 556.3,432.0 556.3,297.3 556.7,297.3 556.7,317.2 557.1,317.2 557.1,303.2 557.5,303.2 557.5,321.1 557.9,321.1 557.9,466.7 558.3,466.7 558.3,286.9 558.7,286.9 558.7,225.0 559.1,225.0 559.1,229.0 559.5,229.0 559.5,384.6 559.9,384.6 559.9,253.4 560.3,253.4 560.3,255.7 560.7,255.7 560.7,353.4 561.1,353.4 561.1,373.0 561.5,373.0 561.5,395.9 562.0,395.9 562.0,394.9 562.4,394.9 562.4,366.3 562.8,366.3 562.8,406.2 563.2,406.2 563.2,274.2 563.6,274.2 563.6,276.2 564.0,276.2 564.0,309.9 564.4,309.9 564.4,310.0 564.8,310.0 564.8,451.5 565.2,451.5 565.2,378.5 565.6,378.5 565.6,352.9 566.0,352.9 566.0,321.1 566.4,321.1 566.4,254.7 566.8,254.7 566.8,290.6 567.2,290.6 567.2,321.2 567.6,321.2 567.6,359.6 568.0,359.6 568.0,396.3 568.4,396.3 568.4,315.5 568.8,315.5 568.8,421.3 569.2,421.3 569.2,420.7 569.6,420.7 569.6,445.6 570.1,445.6 570.1,447.4 570.5,447.4 570.5,337.5 570.9,337.5 570.9,324.3 571.3,324.3 571.3,358.2 571.7,358.2 571.7,205.0 572.1,205.0 572.1,209.0 572.5,209.0 572.5,406.5 572.9,406.5 572.9,353.8 573.3,353.8 573.3,363.5 573.7,363.5 573.7,372.0 574.1,372.0 574.1,351.1 574.5,351.1 574.5,375.2 574.9,375.2 574.9,309.0 575.3,309.0 575.3,299.4 575.7,299.4 575.7,286.5 576.1,286.5 576.1,283.2 576.5,283.2 576.5,426.2 576.9,426.2 576.9,398.7 577.3,398.7 577.3,282.0 577.7,282.0 577.7,284.5 578.2,284.5 578.2,325.0 578.6,325.0 578.6,454.5 579.0,454.5 579.0,369.6 579.4,369.6 579.4,427.3 579.8,427.3 579.8,389.7 580.2,389.7 580.2,374.8 580.6,374.8 580.6,377.0 581.0,377.0 581.0,403.1 581.4,403.1 581.4,388.0 581.8,388.0 581.8,350.1 582.2,350.1 582.2,380.9 582.6,380.9 582.6,262.7 583.0,262.7 583.0,374.9 583.4,374.9 583.4,382.6 583.8,382.6 583.8,365.1 584.2,365.1 584.2,353.0 584.6,353.0 584.6,315.7 585.0,315.7 585.0,316.1 585.4,316.1 585.4,293.1 585.8,293.1 585.8,306.9 586.3,306.9 586.3,394.6 586.7,394.6 586.7,395.4 587.1,395.4 587.1,271.0 587.5,271.0 587.5,271.2 587.9,271.2 587.9,428.2 588.3,428.2 588.3,430.3 588.7,430.3 588.7,396.7 589.1,396.7 589.1,400.5 589.5,400.5 589.5,447.5 589.9,447.5 589.9,449.5 590.3,449.5 590.3,386.7 590.7,386.7 590.7,385.3 591.1,385.3 591.1,420.7 591.5,420.7 591.5,396.7 591.9,396.7 591.9,390.8 592.3,390.8 592.3,398.0 592.7,398.0 592.7,380.2 593.1,380.2 593.1,400.1 593.5,400.1 593.5,386.3 593.9,386.3 593.9,306.0 594.4,306.0 594.4,388.3 594.8,388.3 594.8,457.5 595.2,457.5 595.2,459.4 595.6,459.4 595.6,459.3 596.0,459.3 596.0,405.6 596.4,405.6 596.4,427.0 596.8,427.0 596.8,463.7 597.2,463.7 597.2,421.7 597.6,421.7 597.6,417.7 598.0,417.7 598.0,416.3 598.4,416.3 598.4,407.9 598.8,407.9 598.8,388.7 599.2,388.7 599.2,389.6 599.6,389.6 599.6,492.2 600.0,492.2 600.0,478.7 600.4,478.7 600.4,480.8 600.8,480.8 600.8,432.4 601.2,432.4 601.2,452.4 601.6,452.4 601.6,452.0 602.0,452.0 602.0,426.7 602.5,426.7 602.5,407.4 602.9,407.4 602.9,473.9 603.3,473.9 603.3,444.0 603.7,444.0 603.7,443.9 604.1,443.9 604.1,396.9 604.5,396.9 604.5,373.0 604.9,373.0 604.9,375.7 605.3,375.7 605.3,370.0 605.7,370.0 605.7,365.8 606.1,365.8 606.1,395.2 606.5,395.2 606.5,393.6 606.9,393.6 606.9,404.2 607.3,404.2 607.3,400.2 607.7,400.2 607.7,445.3 608.1,445.3 608.1,446.2 608.5,446.2 608.5,353.2 608.9,353.2 608.9,523.0 609.3,523.0 609.3,519.0 609.7,519.0 609.7,508.3 610.1,508.3 610.1,507.0 610.6,507.0 610.6,473.6 611.0,473.6 611.0,474.7 611.4,474.7 611.4,376.7 611.8,376.7 611.8,381.1 612.2,381.1 612.2,438.4 612.6,438.4 612.6,501.4 613.0,501.4 613.0,396.2 613.4,396.2 613.4,314.4 613.8,314.4 613.8,311.0 614.2,311.0 614.2,396.9 614.6,396.9 614.6,397.3 615.0,397.3 615.0,406.9 615.4,406.9 615.4,427.2 615.8,427.2 615.8,361.4 616.2,361.4 616.2,426.1 616.6,426.1 616.6,439.0 617.0,439.0 617.0,318.3 617.4,318.3 617.4,319.3 617.8,319.3 617.8,441.1 618.2,441.1 618.2,438.3 618.7,438.3 618.7,334.9 619.1,334.9 619.1,333.7 619.5,333.7 619.5,407.4 619.9,407.4 619.9,443.6 620.3,443.6 620.3,404.3 620.7,404.3 620.7,395.7 621.1,395.7 621.1,363.6 621.5,363.6 621.5,416.9 621.9,416.9 621.9,466.7 622.3,466.7 622.3,447.9 622.7,447.9 622.7,445.6 623.1,445.6 623.1,358.0 623.5,358.0 623.5,357.1 623.9,357.1 623.9,381.7 624.3,381.7 624.3,404.5 624.7,404.5 624.7,369.2 625.1,369.2 625.1,438.0 625.5,438.0 625.5,335.5 625.9,335.5 625.9,344.2 626.3,344.2 626.3,344.8 626.8,344.8 626.8,427.1 627.2,427.1 627.2,320.4 627.6,320.4 627.6,280.1 628.0,280.1 628.0,352.0 628.4,352.0 628.4,361.6 628.8,361.6 628.8,360.6 629.2,360.6 629.2,349.2 629.6,349.2 629.6,259.0 630.0,259.0 630.0,241.9 630.4,241.9 630.4,244.6 630.8,244.6 630.8,322.1 631.2,322.1 631.2,403.4 631.6,403.4 631.6,287.3 632.0,287.3 632.0,259.5 632.4,259.5 632.4,265.6 632.8,265.6 632.8,260.1 633.2,260.1 633.2,318.8 633.6,318.8 633.6,351.1 634.0,351.1 634.0,337.4 634.4,337.4 634.4,352.3 634.9,352.3 634.9,325.3 635.3,325.3 635.3,346.0 635.7,346.0 635.7,260.6 636.1,260.6 636.1,395.6 636.5,395.6 636.5,363.9 636.9,363.9 636.9,321.1 637.3,321.1 637.3,314.8 637.7,314.8 637.7,304.1 638.1,304.1 638.1,321.3 638.5,321.3 638.5,317.1 638.9,317.1 638.9,329.1 639.3,329.1 639.3,327.2 639.7,327.2 639.7,222.0 640.1,222.0 640.1,226.0 640.5,226.0 640.5,416.7 640.9,416.7 640.9,414.1 641.3,414.1 641.3,277.6 641.7,277.6 641.7,290.0 642.1,290.0 642.1,279.9 642.5,279.9 642.5,380.3 643.0,380.3 643.0,288.9 643.4,288.9 643.4,477.5 643.8,477.5 643.8,476.9 644.2,476.9 644.2,259.0 644.6,259.0 644.6,300.3 645.0,300.3 645.0,262.2 645.4,262.2 645.4,262.9 645.8,262.9 645.8,367.7 646.2,367.7 646.2,477.0 646.6,477.0 646.6,472.7 647.0,472.7 647.0,397.3 647.4,397.3 647.4,384.0 647.8,384.0 647.8,386.9 648.2,386.9 648.2,363.3 648.6,363.3 648.6,387.6 649.0,387.6 649.0,405.6 649.4,405.6 649.4,448.7 649.8,448.7 649.8,429.1 650.2,429.1 650.2,450.7 650.6,450.7 650.6,474.4 651.1,474.4 651.1,475.7 651.5,475.7 651.5,418.0 651.9,418.0 651.9,479.4 652.3,479.4 652.3,479.8 652.7,479.8 652.7,476.5 653.1,476.5 653.1,475.3 653.5,475.3 653.5,409.6 653.9,409.6 653.9,406.3 654.3,406.3 654.3,319.7 654.7,319.7 654.7,318.9 655.1,318.9 655.1,477.8 655.5,477.8 655.5,479.1 655.9,479.1 655.9,370.5 656.3,370.5 656.3,450.4 656.7,450.4 656.7,450.2 657.1,450.2 657.1,337.0 657.5,337.0 657.5,338.6 657.9,338.6 657.9,386.3 658.3,386.3 658.3,375.7 658.7,375.7 658.7,369.9 659.2,369.9 659.2,412.8 659.6,412.8 659.6,431.8 660.0,431.8 660.0,515.2 660.4,515.2 660.4,513.0 660.8,513.0 660.8,524.8 661.2,524.8 661.2,356.7 661.6,356.7 661.6,358.1 662.0,358.1 662.0,437.5 662.4,437.5 662.4,439.8 662.8,439.8 662.8,394.5 663.2,394.5 663.2,528.1 663.6,528.1 663.6,527.5 664.0,527.5 664.0,415.1 664.4,415.1 664.4,402.1 664.8,402.1 664.8,374.6 665.2,374.6 665.2,375.0 665.6,375.0 665.6,448.6 666.0,448.6 666.0,446.1 666.4,446.1 666.4,369.7 666.8,369.7 666.8,369.2 667.3,369.2 667.3,399.0 667.7,399.0 667.7,388.1 668.1,388.1 668.1,539.1 668.5,539.1 668.5,538.5 668.9,538.5 668.9,421.6 669.3,421.6 669.3,434.1 669.7,434.1 669.7,408.6 670.1,408.6 670.1,401.4 670.5,401.4 670.5,540.0 670.9,540.0 670.9,536.0 671.3,536.0 671.3,367.6 671.7,367.6 671.7,492.2 672.1,492.2 672.1,490.4 672.5,490.4 672.5,405.3 672.9,405.3 672.9,386.2 673.3,386.2 673.3,392.4 673.7,392.4 673.7,363.8 674.1,363.8 674.1,361.6 674.5,361.6 674.5,395.9 674.9,395.9 674.9,401.5 675.4,401.5 675.4,390.7 675.8,390.7 675.8,541.1 676.2,541.1 676.2,538.3 676.6,538.3 676.6,411.0 677.0,411.0 677.0,507.3 677.4,507.3 677.4,507.0 677.8,507.0 677.8,375.8 678.2,375.8 678.2,437.2 678.6,437.2 678.6,421.8 679.0,421.8 679.0,404.3 679.4,404.3 679.4,401.3 679.8,401.3 679.8,395.9 680.2,395.9 680.2,368.1 680.6,368.1 680.6,366.9 681.0,366.9 681.0,521.2 681.4,521.2 681.4,525.3 681.8,525.3 681.8,374.3 682.2,374.3 682.2,530.0 682.6,530.0 682.6,375.0 683.0,375.0 683.0,468.1 683.5,468.1 683.5,374.0 683.9,374.0 683.9,346.6 684.3,346.6 684.3,392.3 684.7,392.3 684.7,457.0 685.1,457.0 685.1,366.2 685.5,366.2 685.5,366.5 685.9,366.5 685.9,388.2 686.3,388.2 686.3,475.1 686.7,475.1 686.7,422.5 687.1,422.5 687.1,430.9 687.5,430.9 687.5,453.8 687.9,453.8 687.9,532.0 688.3,532.0 688.3,528.0 688.7,528.0 688.7,436.5 689.1,436.5 689.1,335.8 689.5,335.8 689.5,402.8 689.9,402.8 689.9,465.4 690.3,465.4 690.3,428.6 690.7,428.6 690.7,440.5 691.1,440.5 691.1,419.3 691.6,419.3 691.6,409.7 692.0,409.7 692.0,406.4 692.4,406.4 692.4,420.5 692.8,420.5 692.8,423.2 693.2,423.2 693.2,465.7 693.6,465.7 693.6,411.4 694.0,411.4 694.0,441.5 694.4,441.5 694.4,446.7 694.8,446.7 694.8,467.9 695.2,467.9 695.2,466.5 695.6,466.5 695.6,447.8 696.0,447.8 696.0,451.1 696.4,451.1 696.4,228.0 696.8,228.0 696.8,232.0 697.2,232.0 697.2,434.6 697.6,434.6 697.6,422.9 698.0,422.9 698.0,511.2 698.4,511.2 698.4,511.9 698.8,511.9 698.8,480.8 699.2,480.8 699.2,483.0 699.7,483.0 699.7,393.8 700.1,393.8 700.1,392.7 700.5,392.7 700.5,388.5 700.9,388.5 700.9,381.0 701.3,381.0 701.3,395.9 701.7,395.9 701.7,390.4 702.1,390.4 702.1,503.4 702.5,503.4 702.5,504.2 702.9,504.2 702.9,523.0 703.3,523.0 703.3,519.0 703.7,519.0 703.7,400.4 704.1,400.4 704.1,333.2 704.5,333.2 704.5,330.7 704.9,330.7 704.9,491.3 705.3,491.3 705.3,388.1 705.7,388.1 705.7,395.3 706.1,395.3 706.1,335.0 706.5,335.0 706.5,337.0 706.9,337.0 706.9,436.7 707.3,436.7 707.3,437.0 707.8,437.0 707.8,446.9 708.2,446.9 708.2,477.5 708.6,477.5 708.6,478.7 709.0,478.7 709.0,444.4 709.4,444.4 709.4,426.0 709.8,426.0 709.8,409.2 710.2,409.2 710.2,406.4 710.6,406.4 710.6,371.0 711.0,371.0 711.0,386.9 711.4,386.9 711.4,324.2 711.8,324.2 711.8,327.7 712.2,327.7 712.2,365.2 712.6,365.2 712.6,384.2 713.0,384.2 713.0,365.0 713.4,365.0 713.4,453.5 713.8,453.5 713.8,447.5 714.2,447.5 714.2,365.4 714.6,365.4 714.6,357.9 715.0,357.9 715.0,361.2 715.4,361.2 715.4,293.5 715.9,293.5 715.9,350.2 716.3,350.2 716.3,367.7 716.7,367.7 716.7,363.2 717.1,363.2 717.1,372.0 717.5,372.0 717.5,381.8 717.9,381.8 717.9,378.6 718.3,378.6 718.3,298.4 718.7,298.4 718.7,383.5 719.1,383.5 719.1,297.9 719.5,297.9 719.5,387.3 719.9,387.3 719.9,353.4 720.3,353.4 720.3,353.2 720.7,353.2 720.7,346.1 721.1,346.1 721.1,381.3 721.5,381.3 721.5,378.1 721.9,378.1 721.9,379.7 722.3,379.7 722.3,388.1 722.7,388.1 722.7,355.2 723.1,355.2 723.1,344.2 723.5,344.2 723.5,449.1 724.0,449.1 724.0,375.9 724.4,375.9 724.4,383.9 724.8,383.9 724.8,416.9 725.2,416.9 725.2,415.6 725.6,415.6 725.6,383.9 726.0,383.9 726.0,385.0 726.4,385.0 726.4,350.8 726.8,350.8 726.8,340.4 727.2,340.4 727.2,348.3 727.6,348.3 727.6,316.2 728.0,316.2 728.0,411.3 728.4,411.3 728.4,412.0 728.8,412.0 728.8,356.3 729.2,356.3 729.2,298.9 729.6,298.9 729.6,331.1 730.0,331.1 730.0,343.6 730.4,343.6 730.4,313.5 730.8,313.5 730.8,305.1 731.2,305.1 731.2,283.3 731.6,283.3 731.6,279.3 732.1,279.3 732.1,318.3 732.5,318.3 732.5,249.8 732.9,249.8 732.9,324.9 733.3,324.9 733.3,318.4 733.7,318.4 733.7,317.0 734.1,317.0 734.1,395.5 734.5,395.5 734.5,395.3 734.9,395.3 734.9,362.6 735.3,362.6 735.3,295.0 735.7,295.0 735.7,182.0 736.1,182.0 736.1,186.0 736.5,186.0 736.5,369.9 736.9,369.9 736.9,467.8 737.3,467.8 737.3,462.8 737.7,462.8 737.7,385.1 738.1,385.1 738.1,292.0 738.5,292.0 738.5,415.6 738.9,415.6 738.9,384.0 739.3,384.0 739.3,382.8 739.7,382.8 739.7,464.3 740.2,464.3 740.2,261.2 740.6,261.2 740.6,359.8 741.0,359.8 741.0,409.5 741.4,409.5 741.4,368.2 741.8,368.2 741.8,385.9 742.2,385.9 742.2,384.7 742.6,384.7 742.6,388.5 743.0,388.5 743.0,386.9 743.4,386.9 743.4,378.3 743.8,378.3 743.8,378.4 744.2,378.4 744.2,244.6 744.6,244.6 744.6,243.9 745.0,243.9 745.0,346.4 745.4,346.4 745.4,346.0 745.8,346.0 745.8,423.3 746.2,423.3 746.2,425.8 746.6,425.8 746.6,349.5 747.0,349.5 747.0,320.1 747.4,320.1 747.4,422.8 747.8,422.8 747.8,243.0 748.3,243.0 748.3,247.0 748.7,247.0 748.7,403.9 749.1,403.9 749.1,296.7 749.5,296.7 749.5,299.9 749.9,299.9 749.9,376.0 750.3,376.0 750.3,384.2 750.7,384.2 750.7,357.2 751.1,357.2 751.1,443.3 751.5,443.3 751.5,442.8 751.9,442.8 751.9,414.9 752.3,414.9 752.3,415.1 752.7,415.1 752.7,369.4 753.1,369.4 753.1,373.0 753.5,373.0 753.5,342.8 753.9,342.8 753.9,381.1 754.3,381.1 754.3,374.3 754.7,374.3 754.7,381.4 755.1,381.4 755.1,345.6 755.5,345.6 755.5,317.7 755.9,317.7 755.9,242.7 756.4,242.7 756.4,340.3 756.8,340.3 756.8,325.3 757.2,325.3 757.2,345.1 757.6,345.1 757.6,329.0 758.0,329.0 758.0,401.5 758.4,401.5 758.4,401.6 758.8,401.6 758.8,451.5 759.2,451.5 759.2,305.1 759.6,305.1 759.6,299.9 760.0,299.9 760.0,302.6 760.4,302.6 760.4,349.3 760.8,349.3 760.8,396.5 761.2,396.5 761.2,396.2 761.6,396.2 761.6,350.8 762.0,350.8 762.0,390.7 762.4,390.7 762.4,350.4 762.8,350.4 762.8,220.0 763.2,220.0 763.2,224.0 763.6,224.0 763.6,332.1 764.0,332.1 764.0,312.7 764.5,312.7 764.5,307.2 764.9,307.2 764.9,298.1 765.3,298.1 765.3,390.9 765.7,390.9 765.7,392.6 766.1,392.6 766.1,295.9 766.5,295.9 766.5,294.3 766.9,294.3 766.9,302.3 767.3,302.3 767.3,419.4 767.7,419.4 767.7,419.7 768.1,419.7 768.1,288.6 768.5,288.6 768.5,289.0 768.9,289.0 768.9,299.4 769.3,299.4 769.3,295.2 769.7,295.2 769.7,300.3 770.1,300.3 770.1,331.5 770.5,331.5 770.5,334.2 770.9,334.2 770.9,415.1 771.3,415.1 771.3,416.0 771.7,416.0 771.7,335.6 772.1,335.6 772.1,341.8 772.6,341.8 772.6,395.1 773.0,395.1 773.0,392.0 773.4,392.0 773.4,326.2 773.8,326.2 773.8,305.4 774.2,305.4 774.2,455.2 774.6,455.2 774.6,301.5 775.0,301.5 775.0,303.7 775.4,303.7 775.4,309.7 775.8,309.7 775.8,286.9 776.2,286.9 776.2,296.2 776.6,296.2 776.6,302.2 777.0,302.2 777.0,309.3 777.4,309.3 777.4,432.1 777.8,432.1 777.8,322.8 778.2,322.8 778.2,360.8 778.6,360.8 778.6,338.3 779.0,338.3 779.0,362.0 779.4,362.0 779.4,340.6 779.8,340.6 779.8,359.6 780.2,359.6 780.2,319.2 780.7,319.2 780.7,336.7 781.1,336.7 781.1,340.7 781.5,340.7 781.5,453.4 781.9,453.4 781.9,335.8 782.3,335.8 782.3,332.6 782.7,332.6 782.7,461.9 783.1,461.9 783.1,363.6 783.5,363.6 783.5,351.6 783.9,351.6 783.9,353.2 784.3,353.2 784.3,487.8 784.7,487.8 784.7,356.7 785.1,356.7 785.1,360.1 785.5,360.1 785.5,350.5 785.9,350.5 785.9,348.3 786.3,348.3 786.3,349.0 786.7,349.0 786.7,349.4 787.1,349.4 787.1,359.0 787.5,359.0 787.5,354.9 787.9,354.9 787.9,515.3 788.3,515.3 788.3,518.8 788.8,518.8 788.8,347.0 789.2,347.0 789.2,348.4 789.6,348.4 789.6,357.3 790.0,357.3 790.0,352.1 790.4,352.1 790.4,340.4 790.8,340.4 790.8,352.7 791.2,352.7 791.2,366.2 791.6,366.2 791.6,345.9 792.0,345.9 792.0,345.3 792.4,345.3 792.4,412.5 792.8,412.5 792.8,354.9 793.2,354.9 793.2,492.3 793.6,492.3 793.6,550.0 794.0,550.0 794.0,546.0 794.4,546.0 794.4,487.9 794.8,487.9 794.8,467.7 795.2,467.7 795.2,456.1 795.6,456.1 795.6,438.3 796.0,438.3 796.0,358.2 796.4,358.2 796.4,521.7 796.9,521.7 796.9,521.4 797.3,521.4 797.3,373.1 797.7,373.1 797.7,352.0 798.1,352.0 798.1,348.0 798.5,348.0 798.5,374.7 798.9,374.7 798.9,507.5 799.3,507.5 799.3,509.5 799.7,509.5 799.7,369.5 800.1,369.5 800.1,550.2 800.5,550.2 800.5,549.5 800.9,549.5 800.9,452.7 801.3,452.7 801.3,483.3 801.7,483.3 801.7,391.6 802.1,391.6 802.1,444.9 802.5,444.9 802.5,368.8 802.9,368.8 802.9,379.0 803.3,379.0 803.3,384.8 803.7,384.8 803.7,347.0 804.1,347.0 804.1,351.0 804.5,351.0 804.5,506.5 805.0,506.5 805.0,535.3 805.4,535.3 805.4,538.8 805.8,538.8 805.8,537.5 806.2,537.5 806.2,374.7 806.6,374.7 806.6,422.2 807.0,422.2 807.0,379.4 807.4,379.4 807.4,521.2 807.8,521.2 807.8,373.8 808.2,373.8 808.2,365.1 808.6,365.1 808.6,482.0 809.0,482.0 809.0,447.9 809.4,447.9 809.4,364.2 809.8,364.2 809.8,468.4 810.2,468.4 810.2,516.3 810.6,516.3 810.6,380.5 811.0,380.5 811.0,507.7 811.4,507.7 811.4,412.1 811.8,412.1 811.8,436.2 812.2,436.2 812.2,573.0 812.6,573.0 812.6,569.0 813.1,569.0 813.1,543.3 813.5,543.3 813.5,544.5 813.9,544.5 813.9,383.5 814.3,383.5 814.3,482.6 814.7,482.6 814.7,370.8 815.1,370.8 815.1,395.3 815.5,395.3 815.5,439.6 815.9,439.6 815.9,374.8 816.3,374.8 816.3,445.9 816.7,445.9 816.7,378.3 817.1,378.3 817.1,368.2 817.5,368.2 817.5,390.7 817.9,390.7 817.9,449.3 818.3,449.3 818.3,393.7 818.7,393.7 818.7,379.8 819.1,379.8 819.1,380.9 819.5,380.9 819.5,384.0 819.9,384.0 819.9,379.6 820.3,379.6 820.3,475.1 820.7,475.1 820.7,475.4 821.2,475.4 821.2,500.0 821.6,500.0 821.6,379.5 822.0,379.5 822.0,376.3 822.4,376.3 822.4,465.6 822.8,465.6 822.8,383.9 823.2,383.9 823.2,369.3 823.6,369.3 823.6,427.6 824.0,427.6 824.0,540.8 824.4,540.8 824.4,541.5 824.8,541.5 824.8,382.3 825.2,382.3 825.2,414.5 825.6,414.5 825.6,353.0 826.0,353.0 826.0,349.0 826.4,349.0 826.4,401.8 826.8,401.8 826.8,441.1 827.2,441.1 827.2,458.6 827.6,458.6 827.6,383.6 828.0,383.6 828.0,378.8 828.4,378.8 828.4,379.4 828.8,379.4 828.8,497.5 829.3,497.5 829.3,410.0 829.7,410.0 829.7,509.3 830.1,509.3 830.1,365.4 830.5,365.4 830.5,382.7 830.9,382.7 830.9,508.8 831.3,508.8 831.3,509.5 831.7,509.5 831.7,378.1 832.1,378.1 832.1,440.6 832.5,440.6 832.5,444.5 832.9,444.5 832.9,422.3 833.3,422.3 833.3,529.0 833.7,529.0 833.7,529.4 834.1,529.4 834.1,430.2 834.5,430.2 834.5,530.5 834.9,530.5 834.9,528.5 835.3,528.5 835.3,376.6 835.7,376.6 835.7,383.7 836.1,383.7 836.1,450.7 836.5,450.7 836.5,383.0 836.9,383.0 836.9,382.4 837.4,382.4 837.4,402.6 837.8,402.6 837.8,483.3 838.2,483.3 838.2,384.6 838.6,384.6 838.6,521.5 839.0,521.5 839.0,523.6 839.4,523.6 839.4,441.2 839.8,441.2 839.8,543.1 840.2,543.1 840.2,381.8 840.6,381.8 840.6,467.6 841.0,467.6 841.0,377.8 841.4,377.8 841.4,369.9 841.8,369.9 841.8,407.4 842.2,407.4 842.2,379.1 842.6,379.1 842.6,372.0 843.0,372.0 843.0,407.8 843.4,407.8 843.4,381.8 843.8,381.8 843.8,371.3 844.2,371.3 844.2,424.3 844.6,424.3 844.6,496.5 845.0,496.5 845.0,410.6 845.5,410.6 845.5,379.3 845.9,379.3 845.9,410.4 846.3,410.4 846.3,369.6 846.7,369.6 846.7,373.0 847.1,373.0 847.1,468.6 847.5,468.6 847.5,517.4 847.9,517.4 847.9,522.2 848.3,522.2 848.3,519.3 848.7,519.3 848.7,367.6 849.1,367.6 849.1,518.3 849.5,518.3 849.5,471.5 849.9,471.5 849.9,372.7 850.3,372.7 850.3,380.3 850.7,380.3 850.7,448.6 851.1,448.6 851.1,472.1 851.5,472.1 851.5,416.8 851.9,416.8 851.9,369.3 852.3,369.3 852.3,493.4 852.7,493.4 852.7,496.7 853.1,496.7 853.1,440.9 853.6,440.9 853.6,402.0 854.0,402.0 854.0,384.2 854.4,384.2 854.4,504.9 854.8,504.9 854.8,379.6 855.2,379.6 855.2,384.1 855.6,384.1 855.6,438.6 856.0,438.6 856.0,505.8 856.4,505.8 856.4,408.5 856.8,408.5 856.8,459.0 857.2,459.0 857.2,513.9 857.6,513.9 857.6,368.8 858.0,368.8 858.0,378.7 858.4,378.7 858.4,444.8 858.8,444.8 858.8,488.2 859.2,488.2 859.2,473.5 859.6,473.5 859.6,547.1 860.0,547.1 860.0,546.4 860.4,546.4 860.4,464.1 860.8,464.1 860.8,423.1 861.2,423.1 861.2,470.1 861.7,470.1 861.7,448.9 862.1,448.9 862.1,507.6 862.5,507.6 862.5,507.7 862.9,507.7 862.9,427.7 863.3,427.7 863.3,378.0 863.7,378.0 863.7,386.0 864.1,386.0 864.1,387.4 864.5,387.4 864.5,435.8 864.9,435.8 864.9,463.4 865.3,463.4 865.3,495.9 865.7,495.9 865.7,410.3 866.1,410.3 866.1,386.5 866.5,386.5 866.5,357.0 866.9,357.0 866.9,353.0 867.3,353.0 867.3,447.7 867.7,447.7 867.7,510.8 868.1,510.8 868.1,374.5 868.5,374.5 868.5,409.8 868.9,409.8 868.9,382.6 869.3,382.6 869.3,581.0 869.8,581.0 869.8,577.0 870.2,577.0 870.2,379.3 870.6,379.3 870.6,384.6 871.0,384.6 871.0,425.0 871.4,425.0 871.4,467.2 871.8,467.2 871.8,376.9 872.2,376.9 872.2,514.5 872.6,514.5 872.6,377.5 873.0,377.5 873.0,591.7 873.4,591.7 873.4,587.7 873.8,587.7 873.8,372.5 874.2,372.5 874.2,459.5 874.6,459.5 874.6,370.8 875.0,370.8 875.0,370.8 875.4,370.8 875.4,484.2 875.8,484.2 875.8,372.2 876.2,372.2 876.2,372.2 876.6,372.2 876.6,395.5 877.0,395.5 877.0,428.8 877.4,428.8 877.4,490.2 877.9,490.2 877.9,384.0 878.3,384.0 878.3,462.0 878.7,462.0 878.7,428.1 879.1,428.1 879.1,384.8 879.5,384.8 879.5,412.5 879.9,412.5 879.9,522.6 880.3,522.6 880.3,522.8 880.7,522.8 880.7,493.6 881.1,493.6 881.1,467.3 881.5,467.3 881.5,515.5 881.9,515.5 881.9,528.2 882.3,528.2 882.3,527.6 882.7,527.6 882.7,386.1 883.1,386.1 883.1,384.4 883.5,384.4 883.5,509.7 883.9,509.7 883.9,445.1 884.3,445.1 884.3,410.0 884.7,410.0 884.7,535.1 885.1,535.1 885.1,535.4 885.5,535.4 885.5,471.4 886.0,471.4 886.0,463.1 886.4,463.1 886.4,388.2 886.8,388.2 886.8,389.2 887.2,389.2 887.2,493.8 887.6,493.8 887.6,520.4 888.0,520.4 888.0,453.9 888.4,453.9 888.4,386.3 888.8,386.3 888.8,471.6 889.2,471.6 889.2,508.5 889.6,508.5 889.6,508.8 890.0,508.8 890.0,437.0 890.4,437.0 890.4,455.8 890.8,455.8 890.8,507.0 891.2,507.0 891.2,508.0 891.6,508.0 891.6,410.8 892.0,410.8 892.0,423.0 892.4,423.0 892.4,482.3 892.8,482.3 892.8,391.0 893.2,391.0 893.2,518.2 893.6,518.2 893.6,540.2 894.1,540.2 894.1,540.7 894.5,540.7 894.5,375.4 894.9,375.4 894.9,421.7 895.3,421.7 895.3,510.9 895.7,510.9 895.7,509.4 896.1,509.4 896.1,496.0 896.5,496.0 896.5,557.0 896.9,557.0 896.9,555.9 897.3,555.9 897.3,438.3 897.7,438.3 897.7,390.3 898.1,390.3 898.1,382.3 898.5,382.3 898.5,479.8 898.9,479.8 898.9,471.0 899.3,471.0 899.3,490.5 899.7,490.5 899.7,378.0 900.1,378.0 900.1,501.3 900.5,501.3 900.5,408.9 900.9,408.9 900.9,558.4 901.3,558.4 901.3,423.1 901.7,423.1 901.7,388.5 902.2,388.5 902.2,366.0 902.6,366.0 902.6,362.0 903.0,362.0 903.0,404.7 903.4,404.7 903.4,437.2 903.8,437.2 903.8,379.6 904.2,379.6 904.2,508.1 904.6,508.1 904.6,386.7 905.0,386.7 905.0,565.6 905.4,565.6 905.4,565.4 905.8,565.4 905.8,388.8 906.2,388.8 906.2,466.7 906.6,466.7 906.6,387.8 907.0,387.8 907.0,375.6 907.4,375.6 907.4,499.4 907.8,499.4 907.8,583.0 908.2,583.0 908.2,579.0 908.6,579.0 908.6,403.1 909.0,403.1 909.0,459.5 909.4,459.5 909.4,536.4 909.8,536.4 909.8,376.8 910.3,376.8 910.3,398.3 910.7,398.3 910.7,384.8 911.1,384.8 911.1,373.3 911.5,373.3 911.5,418.6 911.9,418.6 911.9,390.3 912.3,390.3 912.3,510.6 912.7,510.6 912.7,387.1 913.1,387.1 913.1,412.9 913.5,412.9 913.5,399.8 913.9,399.8 913.9,418.6 914.3,418.6 914.3,375.6 914.7,375.6 914.7,403.5 915.1,403.5 915.1,408.6 915.5,408.6 915.5,377.0 915.9,377.0 915.9,398.7 916.3,398.7 916.3,426.9 916.7,426.9 916.7,366.0 917.1,366.0 917.1,362.0 917.5,362.0 917.5,380.7 917.9,380.7 917.9,544.2 918.4,544.2 918.4,423.0 918.8,423.0 918.8,557.9 919.2,557.9 919.2,522.7 919.6,522.7 919.6,521.5 920.0,521.5 920.0,383.1 920.4,383.1 920.4,377.7 920.8,377.7 920.8,424.0 921.2,424.0 921.2,382.3 921.6,382.3 921.6,386.8 922.0,386.8 922.0,521.1 922.4,521.1 922.4,520.5 922.8,520.5 922.8,434.2 923.2,434.2 923.2,381.9 923.6,381.9 923.6,415.8 924.0,415.8 924.0,515.2 924.4,515.2 924.4,376.2 924.8,376.2 924.8,428.6 925.2,428.6 925.2,374.5 925.6,374.5 925.6,513.6 926.0,513.6 926.0,466.2 926.5,466.2 926.5,519.0 926.9,519.0 926.9,516.3 927.3,516.3 927.3,480.9 927.7,480.9 927.7,403.1 928.1,403.1 928.1,374.3 928.5,374.3 928.5,521.5 928.9,521.5 928.9,407.3 929.3,407.3 929.3,527.2 929.7,527.2 929.7,376.7 930.1,376.7 930.1,538.7 930.5,538.7 930.5,394.6 930.9,394.6 930.9,378.7 931.3,378.7 931.3,468.4 931.7,468.4 931.7,389.5 932.1,389.5 932.1,378.8 932.5,378.8 932.5,500.7 932.9,500.7 932.9,409.1 933.3,409.1 933.3,381.8 933.7,381.8 933.7,470.5 934.1,470.5 934.1,430.5 934.6,430.5 934.6,410.9 935.0,410.9 935.0,477.9 935.4,477.9 935.4,496.8 935.8,496.8 935.8,378.1 936.2,378.1 936.2,461.3 936.6,461.3 936.6,375.6 937.0,375.6 937.0,501.6 937.4,501.6 937.4,438.3 937.8,438.3 937.8,519.5 938.2,519.5 938.2,493.2 938.6,493.2 938.6,489.1 939.0,489.1 939.0,410.3 939.4,410.3 939.4,499.3 939.8,499.3 939.8,406.7 940.2,406.7 940.2,542.9 940.6,542.9 940.6,540.2 941.0,540.2 941.0,422.3 941.4,422.3 941.4,435.2 941.8,435.2 941.8,552.1 942.2,552.1 942.2,381.0 942.7,381.0 942.7,585.0 943.1,585.0 943.1,581.0 943.5,581.0 943.5,426.7 943.9,426.7 943.9,508.8 944.3,508.8 944.3,389.9 944.7,389.9 944.7,413.0 945.1,413.0 945.1,383.0 945.5,383.0 945.5,432.6 945.9,432.6 945.9,471.4 946.3,471.4 946.3,424.6 946.7,424.6 946.7,380.3 947.1,380.3 947.1,384.4 947.5,384.4 947.5,442.1 947.9,442.1 947.9,496.7 948.3,496.7 948.3,432.5 948.7,432.5 948.7,400.2 949.1,400.2 949.1,443.4 949.5,443.4 949.5,389.0 949.9,389.0 949.9,518.7 950.3,518.7 950.3,401.8 950.8,401.8 950.8,490.6 951.2,490.6 951.2,547.3 951.6,547.3 951.6,549.6 952.0,549.6 952.0,527.2 952.4,527.2 952.4,378.4 952.8,378.4 952.8,499.5 953.2,499.5 953.2,466.3 953.6,466.3 953.6,510.9 954.0,510.9 954.0,433.3 954.4,433.3 954.4,431.7 954.8,431.7 954.8,476.1 955.2,476.1 955.2,511.3 955.6,511.3 955.6,511.8 956.0,511.8 956.0,376.7 956.4,376.7 956.4,381.7 956.8,381.7 956.8,379.4 957.2,379.4 957.2,479.0 957.6,479.0 957.6,585.8 958.0,585.8 958.0,511.7 958.4,511.7 958.4,510.4 958.9,510.4 958.9,510.2 959.3,510.2 959.3,388.5 959.7,388.5 959.7,397.4 960.1,397.4 960.1,378.5 960.5,378.5 960.5,488.5 960.9,488.5 960.9,587.0 961.3,587.0 961.3,583.0 961.7,583.0 961.7,422.9 962.1,422.9 962.1,442.1 962.5,442.1 962.5,411.0 962.9,411.0 962.9,388.4 963.3,388.4 963.3,443.0 963.7,443.0 963.7,510.2 964.1,510.2 964.1,391.0 964.5,391.0 964.5,545.4 964.9,545.4 964.9,545.1 965.3,545.1 965.3,467.9 965.7,467.9 965.7,583.0 966.1,583.0 966.1,579.0 966.5,579.0 966.5,383.6 967.0,383.6 967.0,378.0 967.4,378.0 967.4,480.6 967.8,480.6 967.8,514.1 968.2,514.1 968.2,432.6 968.6,432.6 968.6,482.4 969.0,482.4 969.0,390.1 969.4,390.1 969.4,384.6 969.8,384.6 969.8,509.6 970.2,509.6 970.2,519.9 970.6,519.9 970.6,508.6 971.0,508.6 971.0,509.8 971.4,509.8 971.4,371.6 971.8,371.6 971.8,380.7 972.2,380.7 972.2,367.5 972.6,367.5 972.6,363.5 973.0,363.5 973.0,451.3 973.4,451.3 973.4,373.1 973.8,373.1 973.8,375.7 974.2,375.7 974.2,372.4 974.6,372.4 974.6,397.7 975.1,397.7 975.1,459.2 975.5,459.2 975.5,522.3 975.9,522.3 975.9,522.7 976.3,522.7 976.3,407.7 976.7,407.7 976.7,573.0 977.1,573.0 977.1,569.0 977.5,569.0 977.5,452.7 977.9,452.7 977.9,377.1 978.3,377.1 978.3,430.0 978.7,430.0 978.7,416.5 979.1,416.5 979.1,375.5 979.5,375.5 979.5,500.9 979.9,500.9 979.9,432.6 980.3,432.6 980.3,497.9 980.7,497.9 980.7,381.7 981.1,381.7 981.1,436.7 981.5,436.7 981.5,380.3 981.9,380.3 981.9,375.5 982.3,375.5 982.3,517.0 982.7,517.0 982.7,369.5 983.2,369.5 983.2,514.2 983.6,514.2 983.6,511.9 984.0,511.9 984.0,511.2 984.4,511.2 984.4,512.1 984.8,512.1 984.8,379.4 985.2,379.4 985.2,368.4 985.6,368.4 985.6,372.2 986.0,372.2 986.0,370.8 986.4,370.8 986.4,442.3 986.8,442.3 986.8,450.8 987.2,450.8 987.2,481.0 987.6,481.0 987.6,463.2 988.0,463.2 988.0,510.4 988.4,510.4 988.4,511.6 988.8,511.6 988.8,366.0 989.2,366.0 989.2,362.0 989.6,362.0 989.6,512.1 990.0,512.1 990.0,511.1 990.4,511.1 990.4,426.9 990.8,426.9 990.8,371.9 991.3,371.9 991.3,512.2 991.7,512.2 991.7,512.8 992.1,512.8 992.1,513.3 992.5,513.3 992.5,511.9 992.9,511.9 992.9,495.0 993.3,495.0 993.3,453.0 993.7,453.0 993.7,376.8 994.1,376.8 994.1,461.1 994.5,461.1 994.5,506.4 994.9,506.4 994.9,507.6 995.3,507.6 995.3,511.3 995.7,511.3 995.7,507.4 996.1,507.4 996.1,504.3 996.5,504.3 996.5,377.7 996.9,377.7 996.9,382.2 997.3,382.2 997.3,415.9 997.7,415.9 997.7,430.3 998.1,430.3 998.1,374.7 998.5,374.7 998.5,524.3 998.9,524.3 998.9,522.7 999.4,522.7 999.4,373.4 999.8,373.4 999.8,519.9 1000.2,519.9 1000.2,383.5 1000.6,383.5 1000.6,394.4 1001.0,394.4 1001.0,545.4 1001.4,545.4 1001.4,546.4 1001.8,546.4 1001.8,480.5 1002.2,480.5 1002.2,451.2 1002.6,451.2 1002.6,373.0 1003.0,373.0 1003.0,379.1 1003.4,379.1 1003.4,392.0 1003.8,392.0 1003.8,373.7 1004.2,373.7 1004.2,531.8 1004.6,531.8 1004.6,419.4 1005.0,419.4 1005.0,508.1 1005.4,508.1 1005.4,384.5 1005.8,384.5 1005.8,471.8 1006.2,471.8 1006.2,372.3 1006.6,372.3 1006.6,546.0 1007.0,546.0 1007.0,546.4 1007.5,546.4 1007.5,410.3 1007.9,410.3 1007.9,461.5 1008.3,461.5 1008.3,483.4 1008.7,483.4 1008.7,521.9 1009.1,521.9 1009.1,521.8 1009.5,521.8 1009.5,370.6 1009.9,370.6 1009.9,371.7 1010.3,371.7 1010.3,373.5 1010.7,373.5 1010.7,376.7 1011.1,376.7 1011.1,515.7 1011.5,515.7 1011.5,377.8 1011.9,377.8 1011.9,401.7 1012.3,401.7 1012.3,408.5 1012.7,408.5 1012.7,373.2 1013.1,373.2 1013.1,413.3 1013.5,413.3 1013.5,463.3 1013.9,463.3 1013.9,384.7 1014.3,384.7 1014.3,373.2 1014.7,373.2 1014.7,449.4 1015.1,449.4 1015.1,401.7 1015.6,401.7 1015.6,381.0 1016.0,381.0 1016.0,383.3 1016.4,383.3 1016.4,371.6 1016.8,371.6 1016.8,431.4 1017.2,431.4 1017.2,516.3 1017.6,516.3 1017.6,417.8 1018.0,417.8 1018.0,498.7 1018.4,498.7 1018.4,487.1 1018.8,487.1 1018.8,422.6 1019.2,422.6 1019.2,458.4 1019.6,458.4 1019.6,369.5 1020.0,369.5 1020.0,369.6 1020.4,369.6 1020.4,459.3 1020.8,459.3 1020.8,549.5 1021.2,549.5 1021.2,443.0 1021.6,443.0 1021.6,375.9 1022.0,375.9 1022.0,463.1 1022.4,463.1 1022.4,466.5 1022.8,466.5 1022.8,468.7 1023.2,468.7 1023.2,369.8 1023.7,369.8 1023.7,547.0 1024.1,547.0 1024.1,518.0 1024.5,518.0 1024.5,451.1 1024.9,451.1 1024.9,365.0 1025.3,365.0 1025.3,361.0 1025.7,361.0 1025.7,511.0 1026.1,511.0 1026.1,477.8 1026.5,477.8 1026.5,379.6 1026.9,379.6 1026.9,532.2 1027.3,532.2 1027.3,533.0 1027.7,533.0 1027.7,519.8 1028.1,519.8 1028.1,372.7 1028.5,372.7 1028.5,452.4 1028.9,452.4 1028.9,443.6 1029.3,443.6 1029.3,536.3 1029.7,536.3 1029.7,536.7 1030.1,536.7 1030.1,372.6 1030.5,372.6 1030.5,372.7 1030.9,372.7 1030.9,418.0 1031.3,418.0 1031.3,528.7 1031.8,528.7 1031.8,524.5 1032.2,524.5 1032.2,368.3 1032.6,368.3 1032.6,520.2 1033.0,520.2 1033.0,383.6 1033.4,383.6 1033.4,531.1 1033.8,531.1 1033.8,439.3 1034.2,439.3 1034.2,415.1 1034.6,415.1 1034.6,368.0 1035.0,368.0 1035.0,384.1 1035.4,384.1 1035.4,380.8 1035.8,380.8 1035.8,452.8 1036.2,452.8 1036.2,370.1 1036.6,370.1 1036.6,397.6 1037.0,397.6 1037.0,381.3 1037.4,381.3 1037.4,385.1 1037.8,385.1 1037.8,377.0 1038.2,377.0 1038.2,451.2 1038.6,451.2 1038.6,386.6 1039.0,386.6 1039.0,492.3 1039.4,492.3 1039.4,527.1 1039.9,527.1 1039.9,368.0 1040.3,368.0 1040.3,364.0 1040.7,364.0 1040.7,507.8 1041.1,507.8 1041.1,522.1 1041.5,522.1 1041.5,418.3 1041.9,418.3 1041.9,368.3 1042.3,368.3 1042.3,369.3 1042.7,369.3 1042.7,478.2 1043.1,478.2 1043.1,435.1 1043.5,435.1 1043.5,418.1 1043.9,418.1 1043.9,384.4 1044.3,384.4 1044.3,380.7 1044.7,380.7 1044.7,386.6 1045.1,386.6 1045.1,435.2 1045.5,435.2 1045.5,509.0 1045.9,509.0 1045.9,423.6 1046.3,423.6 1046.3,511.4 1046.7,511.4 1046.7,511.2 1047.1,511.2 1047.1,484.0 1047.5,484.0 1047.5,496.2 1048.0,496.2 1048.0,382.8 1048.4,382.8 1048.4,375.8 1048.8,375.8 1048.8,374.1 1049.2,374.1 1049.2,376.3 1049.6,376.3 1049.6,419.5 1050.0,419.5 1050.0,510.1 1050.4,510.1 1050.4,506.9 1050.8,506.9 1050.8,382.6 1051.2,382.6 1051.2,381.2 1051.6,381.2 1051.6,426.6 1052.0,426.6 1052.0,445.2 1052.4,445.2 1052.4,507.1 1052.8,507.1 1052.8,431.7 1053.2,431.7 1053.2,441.6 1053.6,441.6 1053.6,411.8 1054.0,411.8 1054.0,460.3 1054.4,460.3 1054.4,389.0 1054.8,389.0 1054.8,381.0 1055.2,381.0 1055.2,404.4 1055.6,404.4 1055.6,480.0 1056.1,480.0 1056.1,414.9 1056.5,414.9 1056.5,424.7 1056.9,424.7 1056.9,376.7 1057.3,376.7 1057.3,384.1 1057.7,384.1 1057.7,386.3 1058.1,386.3 1058.1,511.1 1058.5,511.1 1058.5,383.9 1058.9,383.9 1058.9,512.9 1059.3,512.9 1059.3,367.3 1059.7,367.3 1059.7,507.9 1060.1,507.9 1060.1,530.6 1060.5,530.6 1060.5,531.3 1060.9,531.3 1060.9,509.2 1061.3,509.2 1061.3,386.6 1061.7,386.6 1061.7,414.4 1062.1,414.4 1062.1,389.4 1062.5,389.4 1062.5,374.8 1062.9,374.8 1062.9,519.8 1063.3,519.8 1063.3,521.1 1063.7,521.1 1063.7,449.6 1064.2,449.6 1064.2,385.4 1064.6,385.4 1064.6,442.0 1065.0,442.0 1065.0,383.3 1065.4,383.3 1065.4,512.8 1065.8,512.8 1065.8,367.3 1066.2,367.3 1066.2,448.9 1066.6,448.9 1066.6,363.0 1067.0,363.0 1067.0,359.0 1067.4,359.0 1067.4,450.3 1067.8,450.3 1067.8,369.4 1068.2,369.4 1068.2,379.0 1068.6,379.0 1068.6,383.9 1069.0,383.9 1069.0,370.2 1069.4,370.2 1069.4,520.9 1069.8,520.9 1069.8,520.6 1070.2,520.6 1070.2,413.8 1070.6,413.8 1070.6,422.5 1071.0,422.5 1071.0,367.4 1071.4,367.4 1071.4,431.8 1071.8,431.8 1071.8,381.8 1072.3,381.8 1072.3,410.6 1072.7,410.6 1072.7,475.2 1073.1,475.2 1073.1,375.0 1073.5,375.0 1073.5,401.6 1073.9,401.6 1073.9,404.5 1074.3,404.5 1074.3,374.3 1074.7,374.3 1074.7,470.7 1075.1,470.7 1075.1,479.7 1075.5,479.7 1075.5,373.2 1075.9,373.2 1075.9,498.8 1076.3,498.8 1076.3,449.7 1076.7,449.7 1076.7,379.5 1077.1,379.5 1077.1,370.4 1077.5,370.4 1077.5,405.8 1077.9,405.8 1077.9,408.7 1078.3,408.7 1078.3,525.7 1078.7,525.7 1078.7,530.1 1079.1,530.1 1079.1,583.0 1079.5,583.0 1079.5,579.0 1079.9,579.0 1079.9,358.8 1080.4,358.8 1080.4,436.8 1080.8,436.8 1080.8,398.7 1081.2,398.7 1081.2,502.6 1081.6,502.6 1081.6,502.1 1082.0,502.1 1082.0,471.1 1082.4,471.1 1082.4,382.8 1082.8,382.8 1082.8,361.1 1083.2,361.1 1083.2,372.3 1083.6,372.3 1083.6,482.3 1084.0,482.3 1084.0,484.2 1084.4,484.2 1084.4,345.2 1084.8,345.2 1084.8,333.3 1085.2,333.3 1085.2,424.1 1085.6,424.1 1085.6,411.9 1086.0,411.9 1086.0,360.0 1086.4,360.0 1086.4,359.8 1086.8,359.8 1086.8,412.7 1087.2,412.7 1087.2,406.4 1087.6,406.4 1087.6,417.6 1088.0,417.6 1088.0,428.3 1088.5,428.3 1088.5,428.8 1088.9,428.8 1088.9,395.1 1089.3,395.1 1089.3,367.7 1089.7,367.7 1089.7,338.7 1090.1,338.7 1090.1,342.7 1090.5,342.7 1090.5,366.3 1090.9,366.3 1090.9,386.3 1091.3,386.3 1091.3,427.9 1091.7,427.9 1091.7,423.7 1092.1,423.7 1092.1,328.5 1092.5,328.5 1092.5,325.1 1092.9,325.1 1092.9,386.3 1093.3,386.3 1093.3,394.0 1093.7,394.0 1093.7,231.0 1094.1,231.0 1094.1,235.0 1094.5,235.0 1094.5,369.3 1094.9,369.3 1094.9,416.1 1095.3,416.1 1095.3,399.2 1095.7,399.2 1095.7,395.8 1096.1,395.8 1096.1,355.2 1096.6,355.2 1096.6,353.7 1097.0,353.7 1097.0,403.4 1097.4,403.4 1097.4,389.0 1097.8,389.0 1097.8,343.6 1098.2,343.6 1098.2,432.0 1098.6,432.0 1098.6,431.2 1099.0,431.2 1099.0,363.2 1099.4,363.2 1099.4,364.5 1099.8,364.5 1099.8,383.0 1100.2,383.0 1100.2,443.0 1100.6,443.0 1100.6,366.5 1101.0,366.5 1101.0,364.3 1101.4,364.3 1101.4,430.6 1101.8,430.6 1101.8,276.2 1102.2,276.2 1102.2,434.6 1102.6,434.6 1102.6,364.1 1103.0,364.1 1103.0,450.8 1103.4,450.8 1103.4,450.9 1103.8,450.9 1103.8,441.4 1104.2,441.4 1104.2,366.7 1104.7,366.7 1104.7,379.1 1105.1,379.1 1105.1,391.2 1105.5,391.2 1105.5,379.3 1105.9,379.3 1105.9,392.0 1106.3,392.0 1106.3,386.2 1106.7,386.2 1106.7,388.4 1107.1,388.4 1107.1,387.5 1107.5,387.5 1107.5,288.1 1107.9,288.1 1107.9,235.8 1108.3,235.8 1108.3,228.6 1108.7,228.6 1108.7,195.6 1109.1,195.6 1109.1,344.0 1109.5,344.0 1109.5,347.9 1109.9,347.9 1109.9,381.0 1110.3,381.0 1110.3,384.8 1110.7,384.8 1110.7,179.8 1111.1,179.8 1111.1,178.6 1111.5,178.6 1111.5,281.9 1111.9,281.9 1111.9,160.0 1112.3,160.0 1112.3,164.0 1112.8,164.0 1112.8,307.6 1113.2,307.6 1113.2,175.4 1113.6,175.4 1113.6,162.5 1114.0,162.5 1114.0,205.2 1114.4,205.2 1114.4,246.5 1114.8,246.5 1114.8,175.8 1115.2,175.8 1115.2,214.2 1115.6,214.2 1115.6,361.6 1116.0,361.6 1116.0,182.0 1116.4,182.0 1116.4,186.0 1116.8,186.0 1116.8,280.7 1117.2,280.7 1117.2,283.1 1117.6,283.1 1117.6,163.5 1118.0,163.5 1118.0,381.1 1118.4,381.1 1118.4,378.0 1118.8,378.0 1118.8,352.3 1119.2,352.3 1119.2,469.9 1119.6,469.9 1119.6,473.4 1120.0,473.4 1120.0,456.6 1120.4,456.6 1120.4,456.4 1120.9,456.4 1120.9,500.4 1121.3,500.4 1121.3,341.9 1121.7,341.9 1121.7,463.4 1122.1,463.4 1122.1,426.9 1122.5,426.9 1122.5,386.0 1122.9,386.0 1122.9,393.9 1123.3,393.9 1123.3,473.4 1123.7,473.4 1123.7,253.4 1124.1,253.4 1124.1,252.4 1124.5,252.4 1124.5,420.4 1124.9,420.4 1124.9,518.0 1125.3,518.0 1125.3,514.0 1125.7,514.0 1125.7,363.5 1126.1,363.5 1126.1,365.2 1126.5,365.2 1126.5,208.1 1126.9,208.1 1126.9,210.3 1127.3,210.3 1127.3,461.5 1127.7,461.5 1127.7,467.0 1128.1,467.0 1128.1,447.3 1128.5,447.3 1128.5,461.4 1129.0,461.4 1129.0,445.2 1129.4,445.2 1129.4,398.6 1129.8,398.6 1129.8,415.9 1130.2,415.9 1130.2,351.6 1130.6,351.6 1130.6,333.1 1131.0,333.1 1131.0,379.5 1131.4,379.5 1131.4,306.0 1131.8,306.0 1131.8,304.7 1132.2,304.7 1132.2,372.5 1132.6,372.5 1132.6,292.9 1133.0,292.9 1133.0,279.7 1133.4,279.7 1133.4,165.0 1133.8,165.0 1133.8,169.0 1134.2,169.0 1134.2,324.7 1134.6,324.7 1134.6,300.2 1135.0,300.2 1135.0,436.0 1135.4,436.0 1135.4,437.6 1135.8,437.6 1135.8,280.6 1136.2,280.6 1136.2,205.6 1136.6,205.6 1136.6,295.3 1137.1,295.3 1137.1,406.0 1137.5,406.0 1137.5,185.3 1137.9,185.3 1137.9,200.8 1138.3,200.8 1138.3,208.3 1138.7,208.3 1138.7,174.7 1139.1,174.7 1139.1,200.7 1139.5,200.7 1139.5,362.0 1139.9,362.0 1139.9,358.1 1140.3,358.1 1140.3,230.6 1140.7,230.6 1140.7,179.0 1141.1,179.0 1141.1,183.0 1141.5,183.0 1141.5,320.7 1141.9,320.7 1141.9,271.5 1142.3,271.5 1142.3,325.7 1142.7,325.7 1142.7,308.8 1143.1,308.8 1143.1,324.2 1143.5,324.2 1143.5,201.4 1143.9,201.4 1143.9,200.7 1144.3,200.7 1144.3,203.9 1144.7,203.9 1144.7,203.1 1145.2,203.1 1145.2,335.1 1145.6,335.1 1145.6,233.0 1146.0,233.0 1146.0,246.2 1146.4,246.2 1146.4,346.8 1146.8,346.8 1146.8,290.0 1147.2,290.0 1147.2,266.3 1147.6,266.3 1147.6,315.2 1148.0,315.2 1148.0,324.1 1148.4,324.1 1148.4,323.7 1148.8,323.7 1148.8,325.1 1149.2,325.1 1149.2,307.7 1149.6,307.7 1149.6,340.3 1150.0,340.3 1150.0,252.9 1150.4,252.9 1150.4,217.0 1150.8,217.0 1150.8,246.9 1151.2,246.9 1151.2,366.0 1151.6,366.0 1151.6,247.4 1152.0,247.4 1152.0,263.5 1152.4,263.5 1152.4,355.1 1152.8,355.1 1152.8,246.6 1153.3,246.6 1153.3,245.2 1153.7,245.2 1153.7,220.4 1154.1,220.4 1154.1,222.7 1154.5,222.7 1154.5,350.3 1154.9,350.3 1154.9,229.0 1155.3,229.0 1155.3,229.5 1155.7,229.5 1155.7,231.4 1156.1,231.4 1156.1,393.9 1156.5,393.9 1156.5,391.3 1156.9,391.3 1156.9,386.0 1157.3,386.0 1157.3,247.4 1157.7,247.4 1157.7,265.8 1158.1,265.8 1158.1,249.1 1158.5,249.1 1158.5,248.8 1158.9,248.8 1158.9,244.6 1159.3,244.6 1159.3,329.8 1159.7,329.8 1159.7,255.3 1160.1,255.3 1160.1,293.7 1160.5,293.7 1160.5,249.3 1160.9,249.3 1160.9,249.2 1161.4,249.2 1161.4,391.1 1161.8,391.1 1161.8,358.7 1162.2,358.7 1162.2,357.8 1162.6,357.8 1162.6,409.9 1163.0,409.9 1163.0,411.5 1163.4,411.5 1163.4,288.1 1163.8,288.1 1163.8,329.3 1164.2,329.3 1164.2,349.7 1164.6,349.7 1164.6,418.1 1165.0,418.1 1165.0,353.8 1165.4,353.8 1165.4,322.7 1165.8,322.7 1165.8,214.0 1166.2,214.0 1166.2,218.0 1166.6,218.0 1166.6,418.0 1167.0,418.0 1167.0,414.0 1167.4,414.0 1167.4,236.9 1167.8,236.9 1167.8,237.0 1168.2,237.0 1168.2,288.3 1168.6,288.3 1168.6,351.6 1169.0,351.6 1169.0,308.0 1169.5,308.0 1169.5,255.3 1169.9,255.3 1169.9,289.3 1170.3,289.3 1170.3,309.1 1170.7,309.1 1170.7,413.3 1171.1,413.3 1171.1,410.8 1171.5,410.8 1171.5,376.4 1171.9,376.4 1171.9,379.6 1172.3,379.6 1172.3,326.5 1172.7,326.5 1172.7,256.8 1173.1,256.8 1173.1,406.0 1173.5,406.0 1173.5,405.3 1173.9,405.3 1173.9,257.8 1174.3,257.8 1174.3,293.7 1174.7,293.7 1174.7,285.6 1175.1,285.6 1175.1,387.9 1175.5,387.9 1175.5,386.9 1175.9,386.9 1175.9,281.1 1176.3,281.1 1176.3,261.3 1176.7,261.3 1176.7,261.8 1177.1,261.8 1177.1,307.3 1177.6,307.3 1177.6,277.7 1178.0,277.7 1178.0,265.5 1178.4,265.5 1178.4,296.6 1178.8,296.6 1178.8,351.3 1179.2,351.3 1179.2,296.0 1179.6,296.0 1179.6,335.1 1180.0,335.1 1180.0,288.0 1180.4,288.0 1180.4,283.8 1180.8,283.8 1180.8,355.4 1181.2,355.4 1181.2,284.0 1181.6,284.0 1181.6,367.8 1182.0,367.8 1182.0,407.5 1182.4,407.5 1182.4,412.3 1182.8,412.3 1182.8,409.4 1183.2,409.4 1183.2,408.2 1183.6,408.2 1183.6,411.1 1184.0,411.1 1184.0,399.5 1184.4,399.5 1184.4,371.9 1184.8,371.9 1184.8,333.3 1185.2,333.3 1185.2,390.1 1185.7,390.1 1185.7,299.9 1186.1,299.9 1186.1,281.7 1186.5,281.7 1186.5,303.2 1186.9,303.2 1186.9,338.0 1187.3,338.0 1187.3,381.0 1187.7,381.0 1187.7,407.3 1188.1,407.3 1188.1,409.4 1188.5,409.4 1188.5,326.1 1188.9,326.1 1188.9,411.7 1189.3,411.7 1189.3,411.1 1189.7,411.1 1189.7,283.3 1190.1,283.3 1190.1,390.3 1190.5,390.3 1190.5,391.3 1190.9,391.3 1190.9,388.9 1191.3,388.9 1191.3,266.9 1191.7,266.9 1191.7,268.5 1192.1,268.5 1192.1,407.8 1192.5,407.8 1192.5,294.7 1192.9,294.7 1192.9,405.1 1193.3,405.1 1193.3,316.8 1193.8,316.8 1193.8,352.5 1194.2,352.5 1194.2,326.7 1194.6,326.7 1194.6,255.5 1195.0,255.5 1195.0,330.6 1195.4,330.6 1195.4,273.9 1195.8,273.9 1195.8,309.6 1196.2,309.6 1196.2,321.5 1196.6,321.5 1196.6,318.0 1197.0,318.0 1197.0,209.4 1197.4,209.4 1197.4,384.3 1197.8,384.3 1197.8,384.3 1198.2,384.3 1198.2,208.1 1198.6,208.1 1198.6,232.5 1199.0,232.5 1199.0,246.9 1199.4,246.9 1199.4,204.3 1199.8,204.3 1199.8,203.6 1200.2,203.6 1200.2,226.9 1200.6,226.9 1200.6,201.6 1201.0,201.6 1201.0,218.6 1201.4,218.6 1201.4,320.5 1201.9,320.5 1201.9,322.7 1202.3,322.7 1202.3,229.2 1202.7,229.2 1202.7,334.5 1203.1,334.5 1203.1,352.8 1203.5,352.8 1203.5,242.4 1203.9,242.4 1203.9,278.6 1204.3,278.6 1204.3,256.7 1204.7,256.7 1204.7,227.5 1205.1,227.5 1205.1,220.4 1205.5,220.4 1205.5,303.3 1205.9,303.3 1205.9,316.8 1206.3,316.8 1206.3,208.9 1206.7,208.9 1206.7,185.0 1207.1,185.0 1207.1,189.0 1207.5,189.0 1207.5,411.6 1207.9,411.6 1207.9,410.7 1208.3,410.7 1208.3,286.8 1208.7,286.8 1208.7,187.2 1209.1,187.2 1209.1,187.8 1209.5,187.8 1209.5,354.9 1210.0,354.9 1210.0,430.8 1210.4,430.8 1210.4,431.8 1210.8,431.8 1210.8,340.6 1211.2,340.6 1211.2,415.5 1211.6,415.5 1211.6,414.0 1212.0,414.0 1212.0,336.4 1212.4,336.4 1212.4,396.6 1212.8,396.6 1212.8,394.0 1213.2,394.0 1213.2,327.5 1213.6,327.5 1213.6,371.6 1214.0,371.6 1214.0,352.5 1214.4,352.5 1214.4,387.3 1214.8,387.3 1214.8,359.3 1215.2,359.3 1215.2,390.5 1215.6,390.5 1215.6,286.0 1216.0,286.0 1216.0,288.4 1216.4,288.4 1216.4,310.5 1216.8,310.5 1216.8,354.4 1217.2,354.4 1217.2,447.9 1217.6,447.9 1217.6,326.5 1218.1,326.5 1218.1,399.8 1218.5,399.8 1218.5,301.3 1218.9,301.3 1218.9,307.2 1219.3,307.2 1219.3,371.0 1219.7,371.0 1219.7,350.7 1220.1,350.7 1220.1,370.7 1220.5,370.7 1220.5,427.9 1220.9,427.9 1220.9,347.1 1221.3,347.1 1221.3,350.4 1221.7,350.4 1221.7,303.3 1222.1,303.3 1222.1,456.1 1222.5,456.1 1222.5,453.6 1222.9,453.6 1222.9,332.5 1223.3,332.5 1223.3,309.9 1223.7,309.9 1223.7,269.8 1224.1,269.8 1224.1,269.5 1224.5,269.5 1224.5,335.0 1224.9,335.0 1224.9,315.3 1225.3,315.3 1225.3,443.2 1225.7,443.2 1225.7,445.2 1226.2,445.2 1226.2,420.5 1226.6,420.5 1226.6,419.9 1227.0,419.9 1227.0,411.5 1227.4,411.5 1227.4,309.7 1227.8,309.7 1227.8,391.4 1228.2,391.4 1228.2,439.4 1228.6,439.4 1228.6,434.5 1229.0,434.5 1229.0,371.7 1229.4,371.7 1229.4,354.1 1229.8,354.1 1229.8,388.3 1230.2,388.3 1230.2,362.9 1230.6,362.9 1230.6,346.1 1231.0,346.1 1231.0,348.5 1231.4,348.5 1231.4,372.6 1231.8,372.6 1231.8,433.7 1232.2,433.7 1232.2,431.8 1232.6,431.8 1232.6,413.5 1233.0,413.5 1233.0,413.9 1233.4,413.9 1233.4,400.0 1233.8,400.0 1233.8,385.4 1234.3,385.4 1234.3,336.1 1234.7,336.1 1234.7,457.2 1235.1,457.2 1235.1,457.6 1235.5,457.6 1235.5,363.1 1235.9,363.1 1235.9,440.0 1236.3,440.0 1236.3,438.5 1236.7,438.5 1236.7,345.5 1237.1,345.5 1237.1,376.0 1237.5,376.0 1237.5,469.3 1237.9,469.3 1237.9,476.3 1238.3,476.3 1238.3,376.6 1238.7,376.6 1238.7,290.8 1239.1,290.8 1239.1,409.6 1239.5,409.6 1239.5,409.4 1239.9,409.4 1239.9,459.5 1240.3,459.5 1240.3,408.2 1240.7,408.2 1240.7,411.2 1241.1,411.2 1241.1,452.9 1241.5,452.9 1241.5,454.7 1241.9,454.7 1241.9,315.2 1242.4,315.2 1242.4,334.8 1242.8,334.8 1242.8,340.5 1243.2,340.5 1243.2,356.6 1243.6,356.6 1243.6,398.6 1244.0,398.6 1244.0,231.5 1244.4,231.5 1244.4,236.5 1244.8,236.5 1244.8,399.0 1245.2,399.0 1245.2,238.0 1245.6,238.0 1245.6,239.1 1246.0,239.1 1246.0,450.2 1246.4,450.2 1246.4,216.2 1246.8,216.2 1246.8,253.4 1247.2,253.4 1247.2,251.0 1247.6,251.0 1247.6,307.3 1248.0,307.3 1248.0,369.4 1248.4,369.4 1248.4,292.6 1248.8,292.6 1248.8,447.4 1249.2,447.4 1249.2,447.6 1249.6,447.6 1249.6,220.6 1250.0,220.6 1250.0,252.9 1250.5,252.9 1250.5,215.8 1250.9,215.8 1250.9,365.2 1251.3,365.2 1251.3,217.2 1251.7,217.2 1251.7,205.0 1252.1,205.0 1252.1,209.0 1252.5,209.0 1252.5,344.6 1252.9,344.6 1252.9,272.2 1253.3,272.2 1253.3,347.5 1253.7,347.5 1253.7,388.2 1254.1,388.2 1254.1,420.5 1254.5,420.5 1254.5,274.3 1254.9,274.3 1254.9,205.0 1255.3,205.0 1255.3,209.0 1255.7,209.0 1255.7,377.8 1256.1,377.8 1256.1,390.0 1256.5,390.0 1256.5,389.8 1256.9,389.8 1256.9,324.5 1257.3,324.5 1257.3,268.1 1257.7,268.1 1257.7,237.2 1258.1,237.2 1258.1,268.5 1258.6,268.5 1258.6,204.0 1259.0,204.0 1259.0,394.3 1259.4,394.3 1259.4,205.1 1259.8,205.1 1259.8,223.4 1260.2,223.4 1260.2,223.1 1260.6,223.1 1260.6,262.4 1261.0,262.4 1261.0,261.7 1261.4,261.7 1261.4,342.0 1261.8,342.0 1261.8,270.0 1262.2,270.0 1262.2,397.9 1262.6,397.9 1262.6,397.0 1263.0,397.0 1263.0,320.9 1263.4,320.9 1263.4,345.0 1263.8,345.0 1263.8,409.5 1264.2,409.5 1264.2,410.1 1264.6,410.1 1264.6,403.7 1265.0,403.7 1265.0,400.7 1265.4,400.7 1265.4,318.6 1265.8,318.6 1265.8,291.5 1266.2,291.5 1266.2,290.5 1266.7,290.5 1266.7,280.7 1267.1,280.7 1267.1,315.4 1267.5,315.4 1267.5,278.2 1267.9,278.2 1267.9,319.0 1268.3,319.0 1268.3,245.0 1268.7,245.0 1268.7,249.0 1269.1,249.0 1269.1,409.3 1269.5,409.3 1269.5,380.9 1269.9,380.9 1269.9,400.0 1270.3,400.0 1270.3,407.3 1270.7,407.3 1270.7,399.7 1271.1,399.7 1271.1,352.0 1271.5,352.0 1271.5,291.6 1271.9,291.6 1271.9,410.9 1272.3,410.9 1272.3,375.2 1272.7,375.2 1272.7,375.0 1273.1,375.0 1273.1,282.8 1273.5,282.8 1273.5,394.5 1273.9,394.5 1273.9,269.4 1274.3,269.4 1274.3,270.6 1274.8,270.6 1274.8,274.6 1275.2,274.6 1275.2,274.4 1275.6,274.4 1275.6,427.4 1276.0,427.4 1276.0,294.6 1276.4,294.6 1276.4,405.9 1276.8,405.9 1276.8,404.3 1277.2,404.3 1277.2,437.1 1277.6,437.1 1277.6,434.5 1278.0,434.5 1278.0,381.1 1278.4,381.1 1278.4,391.7 1278.8,391.7 1278.8,337.4 1279.2,337.4 1279.2,232.0 1279.6,232.0 1279.6,236.0 1280.0,236.0 1280.0,349.2 1280.4,349.2 1280.4,338.8 1280.8,338.8 1280.8,356.7 1281.2,356.7 1281.2,441.8 1281.6,441.8 1281.6,364.2 1282.0,364.2 1282.0,360.3 1282.4,360.3 1282.4,346.2 1282.9,346.2 1282.9,393.2 1283.3,393.2 1283.3,400.4 1283.7,400.4 1283.7,346.7 1284.1,346.7 1284.1,308.1 1284.5,308.1 1284.5,290.0 1284.9,290.0 1284.9,273.7 1285.3,273.7 1285.3,337.0 1285.7,337.0 1285.7,348.2 1286.1,348.2 1286.1,351.5 1286.5,351.5 1286.5,288.6 1286.9,288.6 1286.9,305.2 1287.3,305.2 1287.3,350.1 1287.7,350.1 1287.7,411.5 1288.1,411.5 1288.1,412.8 1288.5,412.8 1288.5,345.0 1288.9,345.0 1288.9,328.6 1289.3,328.6 1289.3,332.4 1289.7,332.4 1289.7,362.3 1290.1,362.3 1290.1,412.8 1290.5,412.8 1290.5,422.5 1291.0,422.5 1291.0,288.3 1291.4,288.3 1291.4,288.6 1291.8,288.6 1291.8,413.8 1292.2,413.8 1292.2,409.4 1292.6,409.4 1292.6,359.4 1293.0,359.4 1293.0,421.8 1293.4,421.8 1293.4,427.4 1293.8,427.4 1293.8,404.8 1294.2,404.8 1294.2,418.6 1294.6,418.6 1294.6,357.4 1295.0,357.4 1295.0,397.2 1295.4,397.2 1295.4,409.3 1295.8,409.3 1295.8,321.0 1296.2,321.0 1296.2,437.5 1296.6,437.5 1296.6,426.6 1297.0,426.6 1297.0,426.9 1297.4,426.9 1297.4,292.3 1297.8,292.3 1297.8,329.9 1298.2,329.9 1298.2,328.4 1298.6,328.4 1298.6,355.1 1299.1,355.1 1299.1,418.1 1299.5,418.1 1299.5,422.6 1299.9,422.6 1299.9,453.1 1300.3,453.1 1300.3,453.8 1300.7,453.8 1300.7,462.4 1301.1,462.4 1301.1,364.6 1301.5,364.6 1301.5,429.4 1301.9,429.4 1301.9,340.5 1302.3,340.5 1302.3,367.3 1302.7,367.3 1302.7,360.2 1303.1,360.2 1303.1,345.5 1303.5,345.5 1303.5,404.8 1303.9,404.8 1303.9,456.7 1304.3,456.7 1304.3,406.9 1304.7,406.9 1304.7,389.9 1305.1,389.9 1305.1,404.3 1305.5,404.3 1305.5,343.7 1305.9,343.7 1305.9,384.9 1306.3,384.9 1306.3,532.0 1306.7,532.0 1306.7,528.0 1307.2,528.0 1307.2,374.7 1307.6,374.7 1307.6,413.7 1308.0,413.7 1308.0,454.1 1308.4,454.1 1308.4,333.5 1308.8,333.5 1308.8,332.8 1309.2,332.8 1309.2,339.6 1309.6,339.6 1309.6,335.4 1310.0,335.4 1310.0,357.0 1310.4,357.0 1310.4,469.5 1310.8,469.5 1310.8,451.2 1311.2,451.2 1311.2,393.7 1311.6,393.7 1311.6,357.3 1312.0,357.3 1312.0,356.9 1312.4,356.9 1312.4,342.3 1312.8,342.3 1312.8,424.4 1313.2,424.4 1313.2,423.4 1313.6,423.4 1313.6,422.7 1314.0,422.7 1314.0,394.4 1314.4,394.4 1314.4,397.6 1314.8,397.6 1314.8,383.9 1315.3,383.9 1315.3,385.3 1315.7,385.3 1315.7,395.5 1316.1,395.5 1316.1,371.2 1316.5,371.2 1316.5,331.2 1316.9,331.2 1316.9,330.9 1317.3,330.9 1317.3,345.3 1317.7,345.3 1317.7,347.5 1318.1,347.5 1318.1,346.7 1318.5,346.7 1318.5,349.6 1318.9,349.6 1318.9,345.8 1319.3,345.8 1319.3,348.1 1319.7,348.1 1319.7,423.6 1320.1,423.6 1320.1,424.6 1320.5,424.6 1320.5,378.0 1320.9,378.0 1320.9,344.3 1321.3,344.3 1321.3,344.9 1321.7,344.9 1321.7,420.5 1322.1,420.5 1322.1,424.6 1322.5,424.6 1322.5,474.4 1322.9,474.4 1322.9,400.5 1323.4,400.5 1323.4,410.7 1323.8,410.7 1323.8,425.0 1324.2,425.0 1324.2,387.3 1324.6,387.3 1324.6,440.4 1325.0,440.4 1325.0,431.2 1325.4,431.2 1325.4,522.0 1325.8,522.0 1325.8,518.0 1326.2,518.0 1326.2,354.9 1326.6,354.9 1326.6,476.1 1327.0,476.1 1327.0,344.0 1327.4,344.0 1327.4,339.8 1327.8,339.8 1327.8,341.3 1328.2,341.3 1328.2,489.9 1328.6,489.9 1328.6,487.0 1329.0,487.0 1329.0,338.6 1329.4,338.6 1329.4,449.1 1329.8,449.1 1329.8,351.3 1330.2,351.3 1330.2,385.5 1330.6,385.5 1330.6,380.0 1331.0,380.0 1331.0,464.8 1331.5,464.8 1331.5,399.6 1331.9,399.6 1331.9,326.7 1332.3,326.7 1332.3,424.9 1332.7,424.9 1332.7,382.6 1333.1,382.6 1333.1,347.0 1333.5,347.0 1333.5,341.8 1333.9,341.8 1333.9,427.6 1334.3,427.6 1334.3,425.2 1334.7,425.2 1334.7,358.9 1335.1,358.9 1335.1,474.0 1335.5,474.0 1335.5,472.3 1335.9,472.3 1335.9,404.6 1336.3,404.6 1336.3,423.4 1336.7,423.4 1336.7,382.9 1337.1,382.9 1337.1,415.3 1337.5,415.3 1337.5,409.6 1337.9,409.6 1337.9,381.7 1338.3,381.7 1338.3,435.5 1338.7,435.5 1338.7,435.7 1339.1,435.7 1339.1,267.0 1339.6,267.0 1339.6,271.0 1340.0,271.0 1340.0,362.7 1340.4,362.7 1340.4,316.8 1340.8,316.8 1340.8,456.6 1341.2,456.6 1341.2,431.9 1341.6,431.9 1341.6,363.5 1342.0,363.5 1342.0,430.9 1342.4,430.9 1342.4,400.4 1342.8,400.4 1342.8,383.8 1343.2,383.8 1343.2,381.6 1343.6,381.6 1343.6,390.6 1344.0,390.6 1344.0,383.9 1344.4,383.9 1344.4,370.1 1344.8,370.1 1344.8,400.5 1345.2,400.5 1345.2,403.1 1345.6,403.1 1345.6,452.1 1346.0,452.1 1346.0,424.8 1346.4,424.8 1346.4,462.0 1346.8,462.0 1346.8,462.3 1347.2,462.3 1347.2,394.1 1347.7,394.1 1347.7,374.1 1348.1,374.1 1348.1,404.2 1348.5,404.2 1348.5,416.6 1348.9,416.6 1348.9,380.5 1349.3,380.5 1349.3,424.6 1349.7,424.6 1349.7,408.9 1350.1,408.9 1350.1,459.2 1350.5,459.2 1350.5,455.7 1350.9,455.7 1350.9,382.1 1351.3,382.1 1351.3,352.1 1351.7,352.1 1351.7,339.4 1352.1,339.4 1352.1,353.9 1352.5,353.9 1352.5,338.8 1352.9,338.8 1352.9,513.0 1353.3,513.0 1353.3,509.0 1353.7,509.0 1353.7,391.4 1354.1,391.4 1354.1,462.1 1354.5,462.1 1354.5,386.7 1354.9,386.7 1354.9,395.5 1355.3,395.5 1355.3,358.2 1355.8,358.2 1355.8,339.3 1356.2,339.3 1356.2,333.3 1356.6,333.3 1356.6,340.2 1357.0,340.2 1357.0,463.6 1357.4,463.6 1357.4,456.1 1357.8,456.1 1357.8,459.7 1358.2,459.7 1358.2,459.1 1358.6,459.1 1358.6,328.6 1359.0,328.6 1359.0,329.5 1359.4,329.5 1359.4,435.4 1359.8,435.4 1359.8,364.1 1360.2,364.1 1360.2,364.5 1360.6,364.5 1360.6,337.6 1361.0,337.6 1361.0,368.7 1361.4,368.7 1361.4,423.1 1361.8,423.1 1361.8,423.9 1362.2,423.9 1362.2,341.9 1362.6,341.9 1362.6,368.8 1363.0,368.8 1363.0,468.0 1363.4,468.0 1363.4,395.5 1363.9,395.5 1363.9,318.3 1364.3,318.3 1364.3,319.9 1364.7,319.9 1364.7,470.7 1365.1,470.7 1365.1,468.5 1365.5,468.5 1365.5,416.7 1365.9,416.7 1365.9,463.8 1366.3,463.8 1366.3,444.7 1366.7,444.7 1366.7,444.1 1367.1,444.1 1367.1,432.0 1367.5,432.0 1367.5,418.8 1367.9,418.8 1367.9,403.8 1368.3,403.8 1368.3,357.2 1368.7,357.2 1368.7,377.4 1369.1,377.4 1369.1,299.5 1369.5,299.5 1369.5,303.5 1369.9,303.5 1369.9,413.6 1370.3,413.6 1370.3,362.0 1370.7,362.0 1370.7,371.8 1371.1,371.8 1371.1,378.7 1371.5,378.7 1371.5,401.2 1372.0,401.2 1372.0,396.0 1372.4,396.0 1372.4,457.2 1372.8,457.2 1372.8,458.1 1373.2,458.1 1373.2,395.0 1373.6,395.0 1373.6,357.0 1374.0,357.0 1374.0,338.4 1374.4,338.4 1374.4,370.9 1374.8,370.9 1374.8,441.2 1375.2,441.2 1375.2,381.8 1375.6,381.8 1375.6,463.6 1376.0,463.6 1376.0,397.2 1376.4,397.2 1376.4,392.5 1376.8,392.5 1376.8,344.1 1377.2,344.1 1377.2,458.8 1377.6,458.8 1377.6,395.5 1378.0,395.5 1378.0,392.4 1378.4,392.4 1378.4,355.2 1378.8,355.2 1378.8,335.0 1379.2,335.0 1379.2,369.7 1379.6,369.7 1379.6,370.1 1380.1,370.1 1380.1,417.7 1380.5,417.7 1380.5,383.8 1380.9,383.8 1380.9,396.6 1381.3,396.6 1381.3,431.2 1381.7,431.2 1381.7,430.8 1382.1,430.8 1382.1,362.7 1382.5,362.7 1382.5,372.9 1382.9,372.9 1382.9,446.0 1383.3,446.0 1383.3,444.8 1383.7,444.8 1383.7,390.1 1384.1,390.1 1384.1,412.9 1384.5,412.9 1384.5,412.4 1384.9,412.4 1384.9,410.2 1385.3,410.2 1385.3,407.9 1385.7,407.9 1385.7,469.5 1386.1,469.5 1386.1,472.1 1386.5,472.1 1386.5,405.3 1386.9,405.3 1386.9,412.7 1387.3,412.7 1387.3,411.0 1387.7,411.0 1387.7,429.6 1388.2,429.6 1388.2,376.3 1388.6,376.3 1388.6,389.9 1389.0,389.9 1389.0,393.1 1389.4,393.1 1389.4,363.0 1389.8,363.0 1389.8,360.4 1390.2,360.4 1390.2,378.9 1390.6,378.9 1390.6,409.6 1391.0,409.6 1391.0,419.1 1391.4,419.1 1391.4,341.0 1391.8,341.0 1391.8,441.4 1392.2,441.4 1392.2,388.9 1392.6,388.9 1392.6,365.8 1393.0,365.8 1393.0,345.4 1393.4,345.4 1393.4,362.9 1393.8,362.9 1393.8,380.7 1394.2,380.7 1394.2,360.6 1394.6,360.6 1394.6,341.2 1395.0,341.2 1395.0,338.5 1395.4,338.5 1395.4,338.4 1395.8,338.4 1395.8,395.7 1396.3,395.7 1396.3,409.4 1396.7,409.4 1396.7,405.9 1397.1,405.9 1397.1,399.4 1397.5,399.4 1397.5,395.1 1397.9,395.1 1397.9,329.8 1398.3,329.8 1398.3,331.2 1398.7,331.2 1398.7,345.0 1399.1,345.0 1399.1,345.0 1399.5,345.0 1399.5,367.6 1399.9,367.6 1399.9,330.8 1400.3,330.8 1400.3,332.2 1400.7,332.2 1400.7,402.0 1401.1,402.0 1401.1,394.4 1401.5,394.4 1401.5,347.2 1401.9,347.2 1401.9,338.6 1402.3,338.6 1402.3,402.9 1402.7,402.9 1402.7,405.7 1403.1,405.7 1403.1,348.6 1403.5,348.6 1403.5,450.7 1403.9,450.7 1403.9,409.2 1404.4,409.2 1404.4,375.5 1404.8,375.5 1404.8,343.6 1405.2,343.6 1405.2,344.0 1405.6,344.0 1405.6,387.3 1406.0,387.3 1406.0,374.9 1406.4,374.9 1406.4,398.9 1406.8,398.9 1406.8,373.2 1407.2,373.2 1407.2,359.3 1407.6,359.3 1407.6,340.4 1408.0,340.4 1408.0,372.6 1408.4,372.6 1408.4,410.8 1408.8,410.8 1408.8,400.0 1409.2,400.0 1409.2,408.5 1409.6,408.5 1409.6,407.4 1410.0,407.4 1410.0,475.4 1410.4,475.4 1410.4,473.9 1410.8,473.9 1410.8,352.0 1411.2,352.0 1411.2,362.5 1411.6,362.5 1411.6,393.3 1412.0,393.3 1412.0,373.2 1412.5,373.2 1412.5,341.7 1412.9,341.7 1412.9,339.2 1413.3,339.2 1413.3,356.1 1413.7,356.1 1413.7,373.5 1414.1,373.5 1414.1,410.9 1414.5,410.9 1414.5,424.0 1414.9,424.0 1414.9,456.8 1415.3,456.8 1415.3,457.4 1415.7,457.4 1415.7,435.8 1416.1,435.8 1416.1,435.4 1416.5,435.4 1416.5,368.9 1416.9,368.9 1416.9,502.2 1417.3,502.2 1417.3,506.3 1417.7,506.3 1417.7,388.5 1418.1,388.5 1418.1,379.6 1418.5,379.6 1418.5,392.8 1418.9,392.8 1418.9,505.0 1419.3,505.0 1419.3,501.0 1419.7,501.0 1419.7,447.2 1420.1,447.2 1420.1,449.5 1420.6,449.5 1420.6,388.6 1421.0,388.6 1421.0,451.0 1421.4,451.0 1421.4,400.4 1421.8,400.4 1421.8,379.9 1422.2,379.9 1422.2,340.6 1422.6,340.6 1422.6,391.5 1423.0,391.5 1423.0,379.2 1423.4,379.2 1423.4,408.2 1423.8,408.2 1423.8,386.4 1424.2,386.4 1424.2,344.3 1424.6,344.3 1424.6,370.5 1425.0,370.5 1425.0,377.6 1425.4,377.6 1425.4,388.9 1425.8,388.9 1425.8,396.0 1426.2,396.0 1426.2,379.9 1426.6,379.9 1426.6,341.7 1427.0,341.7 1427.0,342.5 1427.4,342.5 1427.4,368.0 1427.8,368.0 1427.8,376.1 1428.2,376.1 1428.2,402.2 1428.7,402.2 1428.7,315.1 1429.1,315.1 1429.1,404.3 1429.5,404.3 1429.5,389.6 1429.9,389.6 1429.9,367.7 1430.3,367.7 1430.3,409.3 1430.7,409.3 1430.7,383.8 1431.1,383.8 1431.1,375.0 1431.5,375.0 1431.5,461.5 1431.9,461.5 1431.9,461.0 1432.3,461.0 1432.3,472.6 1432.7,472.6 1432.7,381.8 1433.1,381.8 1433.1,415.9 1433.5,415.9 1433.5,388.0 1433.9,388.0 1433.9,335.9 1434.3,335.9 1434.3,345.6 1434.7,345.6 1434.7,352.1 1435.1,352.1 1435.1,362.1 1435.5,362.1 1435.5,357.0 1435.9,357.0 1435.9,395.0 1436.3,395.0 1436.3,316.0 1436.8,316.0 1436.8,312.7 1437.2,312.7 1437.2,372.2 1437.6,372.2 1437.6,402.5 1438.0,402.5 1438.0,294.5 1438.4,294.5 1438.4,298.5 1438.8,298.5 1438.8,382.7 1439.2,382.7 1439.2,336.0 1439.6,336.0 1439.6,358.4 1440.0,358.4 1440.0,399.2 1440.4,399.2 1440.4,406.1 1440.8,406.1 1440.8,477.7 1441.2,477.7 1441.2,403.4 1441.6,403.4 1441.6,329.1 1442.0,329.1 1442.0,322.2 1442.4,322.2 1442.4,395.9 1442.8,395.9 1442.8,372.2 1443.2,372.2 1443.2,360.4 1443.6,360.4 1443.6,386.0 1444.0,386.0 1444.0,404.3 1444.4,404.3 1444.4,395.8 1444.9,395.8 1444.9,401.8 1445.3,401.8 1445.3,401.0 1445.7,401.0 1445.7,301.3 1446.1,301.3 1446.1,407.2 1446.5,407.2 1446.5,404.2 1446.9,404.2 1446.9,414.1 1447.3,414.1 1447.3,317.8 1447.7,317.8 1447.7,340.9 1448.1,340.9 1448.1,331.3 1448.5,331.3 1448.5,351.9 1448.9,351.9 1448.9,369.2 1449.3,369.2 1449.3,361.4 1449.7,361.4 1449.7,317.9 1450.1,317.9 1450.1,397.7 1450.5,397.7 1450.5,387.0 1450.9,387.0 1450.9,333.1 1451.3,333.1 1451.3,386.4 1451.7,386.4 1451.7,394.7 1452.1,394.7 1452.1,378.6 1452.5,378.6 1452.5,381.3 1453.0,381.3 1453.0,357.8 1453.4,357.8 1453.4,384.0 1453.8,384.0 1453.8,359.4 1454.2,359.4 1454.2,423.1 1454.6,423.1 1454.6,424.6 1455.0,424.6 1455.0,373.6 1455.4,373.6 1455.4,374.4 1455.8,374.4 1455.8,334.2 1456.2,334.2 1456.2,365.7 1456.6,365.7 1456.6,398.1 1457.0,398.1 1457.0,386.6 1457.4,386.6 1457.4,445.2 1457.8,445.2 1457.8,445.2 1458.2,445.2 1458.2,387.9 1458.6,387.9 1458.6,405.8 1459.0,405.8 1459.0,323.0 1459.4,323.0 1459.4,348.4 1459.8,348.4 1459.8,401.6 1460.2,401.6 1460.2,485.3 1460.6,485.3 1460.6,496.9 1461.1,496.9 1461.1,339.2 1461.5,339.2 1461.5,395.7 1461.9,395.7 1461.9,337.4 1462.3,337.4 1462.3,391.1 1462.7,391.1 1462.7,322.1 1463.1,322.1 1463.1,324.8 1463.5,324.8 1463.5,462.2 1463.9,462.2 1463.9,463.3 1464.3,463.3 1464.3,355.8 1464.7,355.8 1464.7,414.9 1465.1,414.9 1465.1,414.6 1465.5,414.6 1465.5,331.5 1465.9,331.5 1465.9,459.9 1466.3,459.9 1466.3,292.0 1466.7,292.0 1466.7,296.0 1467.1,296.0 1467.1,468.2 1467.5,468.2 1467.5,415.0 1467.9,415.0 1467.9,370.4 1468.3,370.4 1468.3,375.4 1468.7,375.4 1468.7,381.0 1469.2,381.0 1469.2,381.0 1469.6,381.0 1469.6,393.3 1470.0,393.3 1470.0,466.8 1470.4,466.8 1470.4,383.2 1470.8,383.2 1470.8,490.0 1471.2,490.0 1471.2,326.5 1471.6,326.5 1471.6,329.3 1472.0,329.3 1472.0,423.8 1472.4,423.8 1472.4,404.0 1472.8,404.0 1472.8,407.7 1473.2,407.7 1473.2,378.4 1473.6,378.4 1473.6,373.8 1474.0,373.8 1474.0,370.2 1474.4,370.2 1474.4,376.4 1474.8,376.4 1474.8,403.6 1475.2,403.6 1475.2,400.0 1475.6,400.0 1475.6,489.9 1476.0,489.9 1476.0,380.4 1476.4,380.4 1476.4,348.1 1476.8,348.1 1476.8,379.0 1477.3,379.0 1477.3,304.2 1477.7,304.2 1477.7,303.9 1478.1,303.9 1478.1,307.7 1478.5,307.7 1478.5,351.1 1478.9,351.1 1478.9,333.7 1479.3,333.7 1479.3,487.4 1479.7,487.4 1479.7,337.4 1480.1,337.4 1480.1,381.5 1480.5,381.5 1480.5,489.1 1480.9,489.1 1480.9,488.1 1481.3,488.1 1481.3,480.5 1481.7,480.5 1481.7,392.3 1482.1,392.3 1482.1,381.5 1482.5,381.5 1482.5,366.9 1482.9,366.9 1482.9,491.7 1483.3,491.7 1483.3,405.9 1483.7,405.9 1483.7,436.3 1484.1,436.3 1484.1,299.0 1484.5,299.0 1484.5,303.0 1484.9,303.0 1484.9,469.1 1485.4,469.1 1485.4,354.8 1485.8,354.8 1485.8,385.9 1486.2,385.9 1486.2,384.2 1486.6,384.2 1486.6,383.5 1487.0,383.5 1487.0,489.6 1487.4,489.6 1487.4,347.5 1487.8,347.5 1487.8,369.1 1488.2,369.1 1488.2,417.9 1488.6,417.9 1488.6,418.4 1489.0,418.4 1489.0,446.6 1489.4,446.6 1489.4,348.1 1489.8,348.1 1489.8,329.7 1490.2,329.7 1490.2,337.6 1490.6,337.6 1490.6,406.2 1491.0,406.2 1491.0,368.8 1491.4,368.8 1491.4,345.4 1491.8,345.4 1491.8,331.1 1492.2,331.1 1492.2,352.6 1492.6,352.6 1492.6,399.1 1493.0,399.1 1493.0,348.8 1493.5,348.8 1493.5,324.3 1493.9,324.3 1493.9,312.9 1494.3,312.9 1494.3,343.7 1494.7,343.7 1494.7,385.1 1495.1,385.1 1495.1,318.1 1495.5,318.1 1495.5,318.6 1495.9,318.6 1495.9,409.8 1496.3,409.8 1496.3,409.2 1496.7,409.2 1496.7,403.2 1497.1,403.2 1497.1,466.7 1497.5,466.7 1497.5,466.2 1497.9,466.2 1497.9,359.5 1498.3,359.5 1498.3,316.0 1498.7,316.0 1498.7,330.1 1499.1,330.1 1499.1,324.0 1499.5,324.0 1499.5,314.6 1499.9,314.6 1499.9,366.6 1500.3,366.6 1500.3,339.7 1500.7,339.7 1500.7,348.5 1501.1,348.5 1501.1,308.3 1501.6,308.3 1501.6,356.7 1502.0,356.7 1502.0,410.3 1502.4,410.3 1502.4,409.7 1502.8,409.7 1502.8,369.1 1503.2,369.1 1503.2,325.2 1503.6,325.2 1503.6,321.6 1504.0,321.6 1504.0,396.1 1504.4,396.1 1504.4,395.6 1504.8,395.6 1504.8,340.6 1505.2,340.6 1505.2,394.0 1505.6,394.0 1505.6,402.2 1506.0,402.2 1506.0,401.2 1506.4,401.2 1506.4,412.9 1506.8,412.9 1506.8,313.0 1507.2,313.0 1507.2,395.1 1507.6,395.1 1507.6,379.6 1508.0,379.6 1508.0,348.1 1508.4,348.1 1508.4,322.4 1508.8,322.4 1508.8,376.3 1509.2,376.3 1509.2,317.5 1509.7,317.5 1509.7,311.1 1510.1,311.1 1510.1,310.5 1510.5,310.5 1510.5,346.7 1510.9,346.7 1510.9,395.2 1511.3,395.2 1511.3,355.5 1511.7,355.5 1511.7,397.9 1512.1,397.9 1512.1,325.3 1512.5,325.3 1512.5,308.1 1512.9,308.1 1512.9,337.6 1513.3,337.6 1513.3,330.1 1513.7,330.1 1513.7,390.2 1514.1,390.2 1514.1,318.3 1514.5,318.3 1514.5,311.7 1514.9,311.7 1514.9,385.4 1515.3,385.4 1515.3,373.1 1515.7,373.1 1515.7,383.5 1516.1,383.5 1516.1,314.1 1516.5,314.1 1516.5,312.0 1516.9,312.0 1516.9,313.5 1517.3,313.5 1517.3,342.2 1517.8,342.2 1517.8,366.9 1518.2,366.9 1518.2,310.5 1518.6,310.5 1518.6,322.7 1519.0,322.7 1519.0,446.6 1519.4,446.6 1519.4,322.7 1519.8,322.7 1519.8,337.6 1520.2,337.6 1520.2,336.6 1520.6,336.6 1520.6,310.7 1521.0,310.7 1521.0,364.5 1521.4,364.5 1521.4,319.3 1521.8,319.3 1521.8,355.5 1522.2,355.5 1522.2,330.7 1522.6,330.7 1522.6,314.1 1523.0,314.1 1523.0,435.4 1523.4,435.4 1523.4,437.5 1523.8,437.5 1523.8,360.6 1524.2,360.6 1524.2,364.9 1524.6,364.9 1524.6,414.1 1525.0,414.1 1525.0,331.4 1525.4,331.4 1525.4,359.7 1525.9,359.7 1525.9,374.5 1526.3,374.5 1526.3,335.1 1526.7,335.1 1526.7,400.8 1527.1,400.8 1527.1,420.5 1527.5,420.5 1527.5,374.5 1527.9,374.5 1527.9,306.8 1528.3,306.8 1528.3,306.5 1528.7,306.5 1528.7,345.5 1529.1,345.5 1529.1,312.5 1529.5,312.5 1529.5,381.5 1529.9,381.5 1529.9,397.9 1530.3,397.9 1530.3,396.7 1530.7,396.7 1530.7,283.4 1531.1,283.4 1531.1,357.8 1531.5,357.8 1531.5,349.7 1531.9,349.7 1531.9,324.0 1532.3,324.0 1532.3,376.3 1532.7,376.3 1532.7,366.2 1533.1,366.2 1533.1,329.3 1533.5,329.3 1533.5,320.4 1534.0,320.4 1534.0,350.1 1534.4,350.1 1534.4,316.4 1534.8,316.4 1534.8,368.2 1535.2,368.2 1535.2,339.9 1535.6,339.9 1535.6,319.9 1536.0,319.9 1536.0,359.6 1536.4,359.6 1536.4,328.6 1536.8,328.6 1536.8,281.0 1537.2,281.0 1537.2,285.0 1537.6,285.0 1537.6,326.0 1538.0,326.0 1538.0,357.3 1538.4,357.3 1538.4,380.4 1538.8,380.4 1538.8,379.4 1539.2,379.4 1539.2,287.9 1539.6,287.9 1539.6,375.1 1540.0,375.1 1540.0,326.4 1540.4,326.4 1540.4,340.7 1540.8,340.7 1540.8,376.0 1541.2,376.0 1541.2,327.4 1541.6,327.4 1541.6,351.4 1542.1,351.4 1542.1,371.9 1542.5,371.9 1542.5,357.7 1542.9,357.7 1542.9,281.0 1543.3,281.0 1543.3,285.0 1543.7,285.0 1543.7,334.8 1544.1,334.8 1544.1,295.5 1544.5,295.5 1544.5,296.2 1544.9,296.2 1544.9,351.3 1545.3,351.3 1545.3,328.8 1545.7,328.8 1545.7,357.7 1546.1,357.7 1546.1,383.2 1546.5,383.2 1546.5,342.9 1546.9,342.9 1546.9,379.7 1547.3,379.7 1547.3,374.2 1547.7,374.2 1547.7,349.6 1548.1,349.6 1548.1,314.1 1548.5,314.1 1548.5,314.5 1548.9,314.5 1548.9,337.0 1549.3,337.0 1549.3,327.5 1549.7,327.5 1549.7,355.4 1550.2,355.4 1550.2,335.8 1550.6,335.8 1550.6,341.6 1551.0,341.6 1551.0,329.3 1551.4,329.3 1551.4,331.1 1551.8,331.1 1551.8,358.6 1552.2,358.6 1552.2,316.0 1552.6,316.0 1552.6,372.8 1553.0,372.8 1553.0,369.9 1553.4,369.9 1553.4,427.1 1553.8,427.1 1553.8,427.8 1554.2,427.8 1554.2,313.4 1554.6,313.4 1554.6,338.7 1555.0,338.7 1555.0,347.5 1555.4,347.5 1555.4,352.9 1555.8,352.9 1555.8,335.1 1556.2,335.1 1556.2,343.2 1556.6,343.2 1556.6,399.2 1557.0,399.2 1557.0,329.4 1557.4,329.4 1557.4,397.6 1557.8,397.6 1557.8,348.4 1558.3,348.4 1558.3,393.2 1558.7,393.2 1558.7,336.0 1559.1,336.0 1559.1,525.0 1559.5,525.0 1559.5,521.0 1559.9,521.0 1559.9,462.5 1560.3,462.5 1560.3,460.9 1560.7,460.9 1560.7,489.5 1561.1,489.5 1561.1,419.3 1561.5,419.3 1561.5,430.4 1561.9,430.4 1561.9,421.1 1562.3,421.1 1562.3,339.5 1562.7,339.5 1562.7,444.6 1563.1,444.6 1563.1,447.8 1563.5,447.8 1563.5,355.3 1563.9,355.3 1563.9,380.6 1564.3,380.6 1564.3,379.9 1564.7,379.9 1564.7,383.2 1565.1,383.2 1565.1,425.9 1565.5,425.9 1565.5,394.6 1565.9,394.6 1565.9,394.6 1566.4,394.6 1566.4,389.0 1566.8,389.0 1566.8,340.2 1567.2,340.2 1567.2,469.7 1567.6,469.7 1567.6,469.3 1568.0,469.3 1568.0,474.5 1568.4,474.5 1568.4,475.4 1568.8,475.4 1568.8,402.0 1569.2,402.0 1569.2,417.1 1569.6,417.1 1569.6,332.3 1570.0,332.3 1570.0,382.3 1570.4,382.3 1570.4,346.4 1570.8,346.4 1570.8,484.4 1571.2,484.4 1571.2,461.4 1571.6,461.4 1571.6,458.0 1572.0,458.0 1572.0,329.9 1572.4,329.9 1572.4,334.1 1572.8,334.1 1572.8,371.0 1573.2,371.0 1573.2,413.9 1573.6,413.9 1573.6,443.2 1574.0,443.2 1574.0,443.9 1574.5,443.9 1574.5,363.3 1574.9,363.3 1574.9,396.4 1575.3,396.4 1575.3,517.5 1575.7,517.5 1575.7,513.5 1576.1,513.5 1576.1,427.7 1576.5,427.7 1576.5,400.7 1576.9,400.7 1576.9,394.9 1577.3,394.9 1577.3,471.8 1577.7,471.8 1577.7,365.2 1578.1,365.2 1578.1,379.8 1578.5,379.8 1578.5,341.1 1578.9,341.1 1578.9,344.6 1579.3,344.6 1579.3,335.2 1579.7,335.2 1579.7,338.0 1580.1,338.0 1580.1,341.1 1580.5,341.1 1580.5,371.7 1580.9,371.7 1580.9,408.7 1581.3,408.7 1581.3,364.5 1581.7,364.5 1581.7,437.5 1582.1,437.5 1582.1,438.7 1582.6,438.7 1582.6,371.6 1583.0,371.6 1583.0,371.0 1583.4,371.0 1583.4,448.6 1583.8,448.6 1583.8,447.4 1584.2,447.4 1584.2,384.4 1584.6,384.4 1584.6,442.2 1585.0,442.2 1585.0,338.7 1585.4,338.7 1585.4,340.2 1585.8,340.2 1585.8,445.8 1586.2,445.8 1586.2,344.6 1586.6,344.6 1586.6,323.2 1587.0,323.2 1587.0,323.1 1587.4,323.1 1587.4,387.6 1587.8,387.6 1587.8,346.1 1588.2,346.1 1588.2,441.1 1588.6,441.1 1588.6,441.8 1589.0,441.8 1589.0,445.5 1589.4,445.5 1589.4,353.7 1589.8,353.7 1589.8,353.9 1590.2,353.9 1590.2,448.0 1590.7,448.0 1590.7,405.2 1591.1,405.2 1591.1,428.7 1591.5,428.7 1591.5,329.7 1591.9,329.7 1591.9,481.6 1592.3,481.6 1592.3,510.0 1592.7,510.0 1592.7,506.0 1593.1,506.0 1593.1,446.1 1593.5,446.1 1593.5,392.4 1593.9,392.4 1593.9,331.7 1594.3,331.7 1594.3,331.7 1594.7,331.7 1594.7,372.3 1595.1,372.3 1595.1,475.4 1595.5,475.4 1595.5,472.5 1595.9,472.5 1595.9,324.7 1596.3,324.7 1596.3,323.4 1596.7,323.4 1596.7,426.6 1597.1,426.6 1597.1,332.6 1597.5,332.6 1597.5,422.4 1597.9,422.4 1597.9,449.8 1598.3,449.8 1598.3,416.7 1598.8,416.7 1598.8,317.7 1599.2,317.7 1599.2,318.0 1599.6,318.0 1599.6,415.4 1600.0,415.4 1600.0,340.5 1600.4,340.5 1600.4,387.5 1600.8,387.5 1600.8,423.8 1601.2,423.8 1601.2,429.7 1601.6,429.7 1601.6,372.8 1602.0,372.8 1602.0,310.9 1602.4,310.9 1602.4,316.5 1602.8,316.5 1602.8,363.7 1603.2,363.7 1603.2,367.6 1603.6,367.6 1603.6,325.9 1604.0,325.9 1604.0,418.1 1604.4,418.1 1604.4,324.0 1604.8,324.0 1604.8,366.7 1605.2,366.7 1605.2,339.7 1605.6,339.7 1605.6,410.7 1606.0,410.7 1606.0,354.5 1606.4,354.5 1606.4,345.0 1606.9,345.0 1606.9,418.2 1607.3,418.2 1607.3,453.3 1607.7,453.3 1607.7,455.5 1608.1,455.5 1608.1,335.2 1608.5,335.2 1608.5,383.6 1608.9,383.6 1608.9,378.2 1609.3,378.2 1609.3,248.0 1609.7,248.0 1609.7,252.0 1610.1,252.0 1610.1,343.9 1610.5,343.9 1610.5,381.2 1610.9,381.2 1610.9,325.2 1611.3,325.2 1611.3,440.9 1611.7,440.9 1611.7,441.3 1612.1,441.3 1612.1,326.0 1612.5,326.0 1612.5,460.4 1612.9,460.4 1612.9,457.9 1613.3,457.9 1613.3,386.5 1613.7,386.5 1613.7,320.3 1614.1,320.3 1614.1,412.2 1614.5,412.2 1614.5,411.1 1615.0,411.1 1615.0,322.1 1615.4,322.1 1615.4,316.0 1615.8,316.0 1615.8,315.3 1616.2,315.3 1616.2,388.7 1616.6,388.7 1616.6,316.1 1617.0,316.1 1617.0,313.3 1617.4,313.3 1617.4,386.5 1617.8,386.5 1617.8,343.3 1618.2,343.3 1618.2,421.3 1618.6,421.3 1618.6,449.5 1619.0,449.5 1619.0,422.7 1619.4,422.7 1619.4,388.5 1619.8,388.5 1619.8,416.9 1620.2,416.9 1620.2,391.1 1620.6,391.1 1620.6,332.0 1621.0,332.0 1621.0,371.2 1621.4,371.2 1621.4,352.6 1621.8,352.6 1621.8,372.5 1622.2,372.5 1622.2,356.7 1622.6,356.7 1622.6,362.6 1623.1,362.6 1623.1,497.5 1623.5,497.5 1623.5,493.5 1623.9,493.5 1623.9,372.8 1624.3,372.8 1624.3,316.5 1624.7,316.5 1624.7,318.2 1625.1,318.2 1625.1,416.4 1625.5,416.4 1625.5,349.7 1625.9,349.7 1625.9,321.5 1626.3,321.5 1626.3,408.3 1626.7,408.3 1626.7,355.2 1627.1,355.2 1627.1,432.3 1627.5,432.3 1627.5,333.7 1627.9,333.7 1627.9,413.3 1628.3,413.3 1628.3,410.7 1628.7,410.7 1628.7,405.0 1629.1,405.0 1629.1,377.4 1629.5,377.4 1629.5,320.7 1629.9,320.7 1629.9,319.8 1630.3,319.8 1630.3,319.9 1630.7,319.9 1630.7,412.0 1631.2,412.0 1631.2,366.8 1631.6,366.8 1631.6,422.2 1632.0,422.2 1632.0,434.6 1632.4,434.6 1632.4,467.1 1632.8,467.1 1632.8,389.7 1633.2,389.7 1633.2,333.0 1633.6,333.0 1633.6,383.8 1634.0,383.8 1634.0,309.2 1634.4,309.2 1634.4,259.5 1634.8,259.5 1634.8,263.5 1635.2,263.5 1635.2,300.4 1635.6,300.4 1635.6,321.5 1636.0,321.5 1636.0,280.8 1636.4,280.8 1636.4,314.0 1636.8,314.0 1636.8,368.8 1637.2,368.8 1637.2,442.1 1637.6,442.1 1637.6,351.9 1638.0,351.9 1638.0,441.3 1638.4,441.3 1638.4,440.5 1638.8,440.5 1638.8,446.9 1639.3,446.9 1639.3,447.6 1639.7,447.6 1639.7,324.5 1640.1,324.5 1640.1,407.5 1640.5,407.5 1640.5,364.8 1640.9,364.8 1640.9,317.0 1641.3,317.0 1641.3,328.5 1641.7,328.5 1641.7,323.4 1642.1,323.4 1642.1,358.0 1642.5,358.0 1642.5,399.9 1642.9,399.9 1642.9,372.7 1643.3,372.7 1643.3,426.1 1643.7,426.1 1643.7,423.4 1644.1,423.4 1644.1,397.1 1644.5,397.1 1644.5,421.3 1644.9,421.3 1644.9,423.8 1645.3,423.8 1645.3,312.8 1645.7,312.8 1645.7,365.9 1646.1,365.9 1646.1,358.3 1646.5,358.3 1646.5,427.5 1646.9,427.5 1646.9,422.5 1647.4,422.5 1647.4,318.8 1647.8,318.8 1647.8,333.6 1648.2,333.6 1648.2,305.5 1648.6,305.5 1648.6,312.1 1649.0,312.1 1649.0,311.7 1649.4,311.7 1649.4,351.6 1649.8,351.6 1649.8,309.7 1650.2,309.7 1650.2,443.8 1650.6,443.8 1650.6,318.8 1651.0,318.8 1651.0,394.0 1651.4,394.0 1651.4,329.6 1651.8,329.6 1651.8,310.0 1652.2,310.0 1652.2,306.1 1652.6,306.1 1652.6,466.3 1653.0,466.3 1653.0,305.2 1653.4,305.2 1653.4,406.1 1653.8,406.1 1653.8,428.1 1654.2,428.1 1654.2,425.2 1654.6,425.2 1654.6,361.7 1655.0,361.7 1655.0,310.9 1655.5,310.9 1655.5,409.4 1655.9,409.4 1655.9,483.5 1656.3,483.5 1656.3,482.6 1656.7,482.6 1656.7,317.7 1657.1,317.7 1657.1,482.1 1657.5,482.1 1657.5,481.6 1657.9,481.6 1657.9,400.2 1658.3,400.2 1658.3,466.2 1658.7,466.2 1658.7,464.3 1659.1,464.3 1659.1,415.3 1659.5,415.3 1659.5,386.7 1659.9,386.7 1659.9,417.0 1660.3,417.0 1660.3,326.6 1660.7,326.6 1660.7,315.3 1661.1,315.3 1661.1,369.8 1661.5,369.8 1661.5,319.8 1661.9,319.8 1661.9,440.5 1662.3,440.5 1662.3,443.0 1662.7,443.0 1662.7,359.9 1663.1,359.9 1663.1,389.4 1663.6,389.4 1663.6,387.2 1664.0,387.2 1664.0,302.9 1664.4,302.9 1664.4,311.9 1664.8,311.9 1664.8,310.4 1665.2,310.4 1665.2,428.7 1665.6,428.7 1665.6,423.4 1666.0,423.4 1666.0,395.0 1666.4,395.0 1666.4,403.8 1666.8,403.8 1666.8,307.7 1667.2,307.7 1667.2,307.4 1667.6,307.4 1667.6,391.3 1668.0,391.3 1668.0,376.6 1668.4,376.6 1668.4,363.5 1668.8,363.5 1668.8,404.8 1669.2,404.8 1669.2,357.5 1669.6,357.5 1669.6,484.8 1670.0,484.8 1670.0,485.6 1670.4,485.6 1670.4,391.8 1670.8,391.8 1670.8,431.8 1671.2,431.8 1671.2,360.7 1671.7,360.7 1671.7,407.2 1672.1,407.2 1672.1,423.2 1672.5,423.2 1672.5,401.2 1672.9,401.2 1672.9,338.6 1673.3,338.6 1673.3,310.9 1673.7,310.9 1673.7,491.5 1674.1,491.5 1674.1,372.6 1674.5,372.6 1674.5,512.0 1674.9,512.0 1674.9,508.0 1675.3,508.0 1675.3,295.0 1675.7,295.0 1675.7,307.6 1676.1,307.6 1676.1,347.6 1676.5,347.6 1676.5,369.7 1676.9,369.7 1676.9,427.8 1677.3,427.8 1677.3,383.7 1677.7,383.7 1677.7,383.1 1678.1,383.1 1678.1,287.5 1678.5,287.5 1678.5,291.5 1678.9,291.5 1678.9,308.9 1679.3,308.9 1679.3,386.6 1679.8,386.6 1679.8,315.3 1680.2,315.3 1680.2,316.4 1680.6,316.4 1680.6,391.7 1681.0,391.7 1681.0,358.8 1681.4,358.8 1681.4,377.9 1681.8,377.9 1681.8,447.6 1682.2,447.6 1682.2,296.6 1682.6,296.6 1682.6,385.6 1683.0,385.6 1683.0,334.1 1683.4,334.1 1683.4,341.5 1683.8,341.5 1683.8,342.2 1684.2,342.2 1684.2,449.7 1684.6,449.7 1684.6,478.5 1685.0,478.5 1685.0,313.6 1685.4,313.6 1685.4,435.0 1685.8,435.0 1685.8,358.2 1686.2,358.2 1686.2,327.7 1686.6,327.7 1686.6,308.4 1687.0,308.4 1687.0,304.0 1687.4,304.0 1687.4,343.1 1687.9,343.1 1687.9,305.7 1688.3,305.7 1688.3,345.8 1688.7,345.8 1688.7,451.6 1689.1,451.6 1689.1,451.5 1689.5,451.5 1689.5,336.1 1689.9,336.1 1689.9,378.7 1690.3,378.7 1690.3,307.6 1690.7,307.6 1690.7,307.4 1691.1,307.4 1691.1,338.1 1691.5,338.1 1691.5,486.6 1691.9,486.6 1691.9,485.1 1692.3,485.1 1692.3,336.4 1692.7,336.4 1692.7,374.2 1693.1,374.2 1693.1,459.9 1693.5,459.9 1693.5,418.2 1693.9,418.2 1693.9,409.4 1694.3,409.4 1694.3,417.3 1694.7,417.3 1694.7,381.6 1695.1,381.6 1695.1,314.6 1695.5,314.6 1695.5,381.3 1696.0,381.3 1696.0,306.9 1696.4,306.9 1696.4,396.0 1696.8,396.0 1696.8,325.9 1697.2,325.9 1697.2,314.4 1697.6,314.4 1697.6,450.2 1698.0,450.2 1698.0,405.0 1698.4,405.0 1698.4,395.2 1698.8,395.2 1698.8,359.9 1699.2,359.9 1699.2,383.3 1699.6,383.3 1699.6,339.1 1700.0,339.1 1700.0,344.0 1700.4,344.0 1700.4,477.3 1700.8,477.3 1700.8,456.0 1701.2,456.0 1701.2,301.4 1701.6,301.4 1701.6,312.1 1702.0,312.1 1702.0,313.9 1702.4,313.9 1702.4,414.0 1702.8,414.0 1702.8,306.3 1703.2,306.3 1703.2,309.0 1703.6,309.0 1703.6,353.7 1704.1,353.7 1704.1,505.5 1704.5,505.5 1704.5,501.5 1704.9,501.5 1704.9,476.4 1705.3,476.4 1705.3,301.8 1705.7,301.8 1705.7,402.8 1706.1,402.8 1706.1,390.6 1706.5,390.6 1706.5,453.1 1706.9,453.1 1706.9,386.9 1707.3,386.9 1707.3,398.3 1707.7,398.3 1707.7,392.5 1708.1,392.5 1708.1,362.2 1708.5,362.2 1708.5,502.3 1708.9,502.3 1708.9,412.3 1709.3,412.3 1709.3,417.9 1709.7,417.9 1709.7,331.3 1710.1,331.3 1710.1,307.2 1710.5,307.2 1710.5,295.6 1710.9,295.6 1710.9,385.1 1711.3,385.1 1711.3,340.8 1711.7,340.8 1711.7,310.2 1712.2,310.2 1712.2,299.0 1712.6,299.0 1712.6,430.8 1713.0,430.8 1713.0,411.2 1713.4,411.2 1713.4,356.5 1713.8,356.5 1713.8,417.7 1714.2,417.7 1714.2,442.5 1714.6,442.5 1714.6,313.1 1715.0,313.1 1715.0,310.2 1715.4,310.2 1715.4,350.4 1715.8,350.4 1715.8,368.1 1716.2,368.1 1716.2,322.1 1716.6,322.1 1716.6,377.6 1717.0,377.6 1717.0,321.0 1717.4,321.0 1717.4,323.8 1717.8,323.8 1717.8,306.5 1718.2,306.5 1718.2,298.5 1718.6,298.5 1718.6,353.2 1719.0,353.2 1719.0,424.2 1719.4,424.2 1719.4,300.8 1719.8,300.8 1719.8,454.8 1720.3,454.8 1720.3,296.8 1720.7,296.8 1720.7,339.5 1721.1,339.5 1721.1,293.2 1721.5,293.2 1721.5,336.4 1721.9,336.4 1721.9,327.3 1722.3,327.3 1722.3,473.6 1722.7,473.6 1722.7,469.8 1723.1,469.8 1723.1,345.4 1723.5,345.4 1723.5,297.7 1723.9,297.7 1723.9,298.1 1724.3,298.1 1724.3,431.1 1724.7,431.1 1724.7,321.2 1725.1,321.2 1725.1,481.9 1725.5,481.9 1725.5,447.2 1725.9,447.2 1725.9,362.4 1726.3,362.4 1726.3,375.3 1726.7,375.3 1726.7,299.1 1727.1,299.1 1727.1,394.4 1727.5,394.4 1727.5,377.7 1727.9,377.7 1727.9,351.8 1728.4,351.8 1728.4,350.8 1728.8,350.8 1728.8,296.9 1729.2,296.9 1729.2,296.7 1729.6,296.7 1729.6,287.8 1730.0,287.8 1730.0,287.3 1730.4,287.3 1730.4,467.4 1730.8,467.4 1730.8,307.5 1731.2,307.5 1731.2,460.4 1731.6,460.4 1731.6,460.4 1732.0,460.4 1732.0,290.7 1732.4,290.7 1732.4,302.6 1732.8,302.6 1732.8,343.4 1733.2,343.4 1733.2,372.8 1733.6,372.8 1733.6,420.3 1734.0,420.3 1734.0,420.9 1734.4,420.9 1734.4,360.0 1734.8,360.0 1734.8,263.7 1735.2,263.7 1735.2,267.7 1735.6,267.7 1735.6,348.0 1736.0,348.0 1736.0,389.9 1736.5,389.9 1736.5,296.4 1736.9,296.4 1736.9,303.0 1737.3,303.0 1737.3,324.5 1737.7,324.5 1737.7,469.1 1738.1,469.1 1738.1,468.4 1738.5,468.4 1738.5,365.1 1738.9,365.1 1738.9,345.2 1739.3,345.2 1739.3,307.1 1739.7,307.1 1739.7,299.0 1740.1,299.0 1740.1,368.1 1740.5,368.1 1740.5,325.9 1740.9,325.9 1740.9,337.0 1741.3,337.0 1741.3,469.4 1741.7,469.4 1741.7,469.3 1742.1,469.3 1742.1,499.5 1742.5,499.5 1742.5,495.5 1742.9,495.5 1742.9,334.6 1743.3,334.6 1743.3,373.6 1743.7,373.6 1743.7,293.9 1744.1,293.9 1744.1,291.7 1744.6,291.7 1744.6,323.0 1745.0,323.0 1745.0,361.8 1745.4,361.8 1745.4,434.8 1745.8,434.8 1745.8,392.6 1746.2,392.6 1746.2,355.3 1746.6,355.3 1746.6,310.8 1747.0,310.8 1747.0,293.3 1747.4,293.3 1747.4,292.1 1747.8,292.1 1747.8,339.3 1748.2,339.3 1748.2,332.6 1748.6,332.6 1748.6,302.2 1749.0,302.2 1749.0,289.0 1749.4,289.0 1749.4,364.0 1749.8,364.0 1749.8,423.4 1750.2,423.4 1750.2,401.2 1750.6,401.2 1750.6,384.6 1751.0,384.6 1751.0,294.3 1751.4,294.3 1751.4,333.5 1751.8,333.5 1751.8,461.9 1752.2,461.9 1752.2,463.8 1752.7,463.8 1752.7,403.7 1753.1,403.7 1753.1,351.1 1753.5,351.1 1753.5,386.7 1753.9,386.7 1753.9,295.2 1754.3,295.2 1754.3,295.5 1754.7,295.5 1754.7,296.4 1755.1,296.4 1755.1,373.4 1755.5,373.4 1755.5,399.4 1755.9,399.4 1755.9,296.5 1756.3,296.5 1756.3,296.1 1756.7,296.1 1756.7,293.5 1757.1,293.5 1757.1,311.7 1757.5,311.7 1757.5,397.6 1757.9,397.6 1757.9,397.3 1758.3,397.3 1758.3,341.2 1758.7,341.2 1758.7,391.9 1759.1,391.9 1759.1,345.8 1759.5,345.8 1759.5,310.5 1759.9,310.5 1759.9,434.2 1760.3,434.2 1760.3,435.7 1760.8,435.7 1760.8,417.9 1761.2,417.9 1761.2,417.4 1761.6,417.4 1761.6,359.0 1762.0,359.0 1762.0,406.2 1762.4,406.2 1762.4,448.4 1762.8,448.4 1762.8,287.4 1763.2,287.4 1763.2,403.1 1763.6,403.1 1763.6,382.7 1764.0,382.7 1764.0,294.1 1764.4,294.1 1764.4,350.0 1764.8,350.0 1764.8,374.6 1765.2,374.6 1765.2,296.9 1765.6,296.9 1765.6,300.8 1766.0,300.8 1766.0,358.9 1766.4,358.9 1766.4,332.0 1766.8,332.0 1766.8,301.3 1767.2,301.3 1767.2,288.8 1767.6,288.8 1767.6,290.6 1768.0,290.6 1768.0,372.1 1768.4,372.1 1768.4,380.2 1768.9,380.2 1768.9,345.6 1769.3,345.6 1769.3,299.4 1769.7,299.4 1769.7,418.1 1770.1,418.1 1770.1,285.5 1770.5,285.5 1770.5,289.5 1770.9,289.5 1770.9,376.5 1771.3,376.5 1771.3,372.1 1771.7,372.1 1771.7,359.4 1772.1,359.4 1772.1,287.9 1772.5,287.9 1772.5,391.7 1772.9,391.7 1772.9,302.0 1773.3,302.0 1773.3,298.1 1773.7,298.1 1773.7,355.4 1774.1,355.4 1774.1,387.7 1774.5,387.7 1774.5,433.5 1774.9,433.5 1774.9,315.9 1775.3,315.9 1775.3,416.4 1775.7,416.4 1775.7,352.3 1776.1,352.3 1776.1,302.0 1776.5,302.0 1776.5,302.9 1777.0,302.9 1777.0,396.7 1777.4,396.7 1777.4,352.8 1777.8,352.8 1777.8,345.0 1778.2,345.0 1778.2,357.2 1778.6,357.2 1778.6,308.9 1779.0,308.9 1779.0,307.6 1779.4,307.6 1779.4,326.3 1779.8,326.3 1779.8,387.9 1780.2,387.9 1780.2,435.9 1780.6,435.9 1780.6,374.6 1781.0,374.6 1781.0,393.8 1781.4,393.8 1781.4,381.0 1781.8,381.0 1781.8,319.1 1782.2,319.1 1782.2,316.9 1782.6,316.9 1782.6,344.5 1783.0,344.5 1783.0,322.1 1783.4,322.1 1783.4,407.6 1783.8,407.6 1783.8,384.4 1784.2,384.4 1784.2,374.3 1784.6,374.3 1784.6,392.0 1785.1,392.0 1785.1,332.7 1785.5,332.7 1785.5,317.5 1785.9,317.5 1785.9,317.9 1786.3,317.9 1786.3,351.0 1786.7,351.0 1786.7,391.9 1787.1,391.9 1787.1,393.2 1787.5,393.2 1787.5,340.3 1787.9,340.3 1787.9,374.2 1788.3,374.2 1788.3,387.2 1788.7,387.2 1788.7,364.1 1789.1,364.1 1789.1,351.0 1789.5,351.0 1789.5,436.8 1789.9,436.8 1789.9,437.5 1790.3,437.5 1790.3,388.3 1790.7,388.3 1790.7,337.6 1791.1,337.6 1791.1,350.9 1791.5,350.9 1791.5,334.4 1791.9,334.4 1791.9,391.7 1792.3,391.7 1792.3,391.0 1792.7,391.0 1792.7,367.0 1793.2,367.0 1793.2,379.9 1793.6,379.9 1793.6,346.9 1794.0,346.9 1794.0,338.6 1794.4,338.6 1794.4,398.9 1794.8,398.9 1794.8,396.7 1795.2,396.7 1795.2,415.6 1795.6,415.6 1795.6,419.4 1796.0,419.4 1796.0,315.1 1796.4,315.1 1796.4,352.4 1796.8,352.4 1796.8,349.6 1797.2,349.6 1797.2,332.6 1797.6,332.6 1797.6,305.0 1798.0,305.0 1798.0,358.9 1798.4,358.9 1798.4,328.8 1798.8,328.8 1798.8,391.1 1799.2,391.1 1799.2,374.1 1799.6,374.1 1799.6,337.1 1800.0,337.1 1800.0,321.5 1800.4,321.5 1800.4,347.0 1800.8,347.0 1800.8,331.6 1801.3,331.6 1801.3,319.4 1801.7,319.4 1801.7,368.6 1802.1,368.6 1802.1,410.0 1802.5,410.0 1802.5,368.7 1802.9,368.7 1802.9,333.1 1803.3,333.1 1803.3,315.0 1803.7,315.0 1803.7,369.6 1804.1,369.6 1804.1,351.8 1804.5,351.8 1804.5,337.0 1804.9,337.0 1804.9,348.6 1805.3,348.6 1805.3,312.5 1805.7,312.5 1805.7,350.8 1806.1,350.8 1806.1,346.4 1806.5,346.4 1806.5,312.5 1806.9,312.5 1806.9,320.1 1807.3,320.1 1807.3,308.4 1807.7,308.4 1807.7,325.5 1808.1,325.5 1808.1,302.9 1808.5,302.9 1808.5,311.4 1808.9,311.4 1808.9,324.0 1809.4,324.0 1809.4,334.5 1809.8,334.5 1809.8,329.8 1810.2,329.8 1810.2,315.7 1810.6,315.7 1810.6,308.8 1811.0,308.8 1811.0,329.7 1811.4,329.7 1811.4,331.5 1811.8,331.5 1811.8,310.3 1812.2,310.3 1812.2,334.6 1812.6,334.6 1812.6,320.1 1813.0,320.1 1813.0,307.0 1813.4,307.0 1813.4,337.2 1813.8,337.2 1813.8,304.4 1814.2,304.4 1814.2,319.1 1814.6,319.1 1814.6,323.1 1815.0,323.1 1815.0,329.0 1815.4,329.0 1815.4,328.1 1815.8,328.1 1815.8,337.0 1816.2,337.0 1816.2,299.4 1816.6,299.4 1816.6,309.8 1817.0,309.8 1817.0,322.9 1817.5,322.9 1817.5,327.8 1817.9,327.8 1817.9,331.5 1818.3,331.5 1818.3,311.7 1818.7,311.7 1818.7,309.9 1819.1,309.9 1819.1,317.0 1819.5,317.0 1819.5,310.3 1819.9,310.3 1819.9,311.1 1820.3,311.1 1820.3,321.7 1820.7,321.7 1820.7,308.7 1821.1,308.7 1821.1,326.6 1821.5,326.6 1821.5,302.9 1821.9,302.9 1821.9,316.1 1822.3,316.1 1822.3,311.5 1822.7,311.5 1822.7,320.8 1823.1,320.8 1824.0,335.0 1825.5,341.0 1827.0,366.0 1829.0,431.0 1830.4,380.0 1831.2,440.0 1832.3,560.0 1833.7,760.0 1835.0,980.0 1835.5,1122.0 1835.6,1127.9 1836.5,1127.9 1836.5,1117.4 1836.5,1127.9 1838.8,1127.9 1838.8,1117.4 1838.8,1127.9 1841.1,1127.9 1841.1,1117.4 1841.1,1127.9 1843.4,1127.9 1843.4,1117.4 1843.4,1127.9 1845.7,1127.9 1845.7,1117.4 1845.7,1127.9 1848.0,1127.9 1848.0,1117.4 1848.0,1127.9 1850.3,1127.9 1850.3,1117.4 1850.3,1127.9 1852.6,1127.9 1852.6,1117.4 1852.6,1127.9 1853.0,1127.9"/></g>
<g stroke="#000" stroke-width="3.33">
<line x1="217.50" y1="1178.50" x2="217.50" y2="1193.08"/>
<line x1="359.32" y1="1178.50" x2="359.32" y2="1193.08"/>
<line x1="501.14" y1="1178.50" x2="501.14" y2="1193.08"/>
<line x1="642.96" y1="1178.50" x2="642.96" y2="1193.08"/>
<line x1="784.78" y1="1178.50" x2="784.78" y2="1193.08"/>
<line x1="926.60" y1="1178.50" x2="926.60" y2="1193.08"/>
<line x1="1068.42" y1="1178.50" x2="1068.42" y2="1193.08"/>
<line x1="1210.24" y1="1178.50" x2="1210.24" y2="1193.08"/>
<line x1="1352.06" y1="1178.50" x2="1352.06" y2="1193.08"/>
<line x1="1493.88" y1="1178.50" x2="1493.88" y2="1193.08"/>
<line x1="1635.70" y1="1178.50" x2="1635.70" y2="1193.08"/>
<line x1="1777.52" y1="1178.50" x2="1777.52" y2="1193.08"/>
<line x1="194.92" y1="1066.24" x2="209.50" y2="1066.24"/>
<line x1="194.92" y1="916.45" x2="209.50" y2="916.45"/>
<line x1="194.92" y1="766.66" x2="209.50" y2="766.66"/>
<line x1="194.92" y1="616.87" x2="209.50" y2="616.87"/>
<line x1="194.92" y1="467.08" x2="209.50" y2="467.08"/>
<line x1="194.92" y1="317.29" x2="209.50" y2="317.29"/>
<line x1="194.92" y1="167.50" x2="209.50" y2="167.50"/>
</g><g stroke="#000" stroke-width="2.5">
<line x1="201.17" y1="1170.94" x2="209.50" y2="1170.94"/>
<line x1="201.17" y1="1144.56" x2="209.50" y2="1144.56"/>
<line x1="201.17" y1="1125.85" x2="209.50" y2="1125.85"/>
<line x1="201.17" y1="1111.33" x2="209.50" y2="1111.33"/>
<line x1="201.17" y1="1099.47" x2="209.50" y2="1099.47"/>
<line x1="201.17" y1="1089.44" x2="209.50" y2="1089.44"/>
<line x1="201.17" y1="1080.76" x2="209.50" y2="1080.76"/>
<line x1="201.17" y1="1073.09" x2="209.50" y2="1073.09"/>
<line x1="201.17" y1="1021.15" x2="209.50" y2="1021.15"/>
<line x1="201.17" y1="994.77" x2="209.50" y2="994.77"/>
<line x1="201.17" y1="976.06" x2="209.50" y2="976.06"/>
<line x1="201.17" y1="961.54" x2="209.50" y2="961.54"/>
<line x1="201.17" y1="949.68" x2="209.50" y2="949.68"/>
<line x1="201.17" y1="939.65" x2="209.50" y2="939.65"/>
<line x1="201.17" y1="930.97" x2="209.50" y2="930.97"/>
<line x1="201.17" y1="923.30" x2="209.50" y2="923.30"/>
<line x1="201.17" y1="871.36" x2="209.50" y2="871.36"/>
<line x1="201.17" y1="844.98" x2="209.50" y2="844.98"/>
<line x1="201.17" y1="826.27" x2="209.50" y2="826.27"/>
<line x1="201.17" y1="811.75" x2="209.50" y2="811.75"/>
<line x1="201.17" y1="799.89" x2="209.50" y2="799.89"/>
<line x1="201.17" y1="789.86" x2="209.50" y2="789.86"/>
<line x1="201.17" y1="781.18" x2="209.50" y2="781.18"/>
<line x1="201.17" y1="773.51" x2="209.50" y2="773.51"/>
<line x1="201.17" y1="721.57" x2="209.50" y2="721.57"/>
<line x1="201.17" y1="695.19" x2="209.50" y2="695.19"/>
<line x1="201.17" y1="676.48" x2="209.50" y2="676.48"/>
<line x1="201.17" y1="661.96" x2="209.50" y2="661.96"/>
<line x1="201.17" y1="650.10" x2="209.50" y2="650.10"/>
<line x1="201.17" y1="640.07" x2="209.50" y2="640.07"/>
<line x1="201.17" y1="631.39" x2="209.50" y2="631.39"/>
<line x1="201.17" y1="623.72" x2="209.50" y2="623.72"/>
<line x1="201.17" y1="571.78" x2="209.50" y2="571.78"/>
<line x1="201.17" y1="545.40" x2="209.50" y2="545.40"/>
<line x1="201.17" y1="526.69" x2="209.50" y2="526.69"/>
<line x1="201.17" y1="512.17" x2="209.50" y2="512.17"/>
<line x1="201.17" y1="500.31" x2="209.50" y2="500.31"/>
<line x1="201.17" y1="490.28" x2="209.50" y2="490.28"/>
<line x1="201.17" y1="481.60" x2="209.50" y2="481.60"/>
<line x1="201.17" y1="473.93" x2="209.50" y2="473.93"/>
<line x1="201.17" y1="421.99" x2="209.50" y2="421.99"/>
<line x1="201.17" y1="395.61" x2="209.50" y2="395.61"/>
<line x1="201.17" y1="376.90" x2="209.50" y2="376.90"/>
<line x1="201.17" y1="362.38" x2="209.50" y2="362.38"/>
<line x1="201.17" y1="350.52" x2="209.50" y2="350.52"/>
<line x1="201.17" y1="340.49" x2="209.50" y2="340.49"/>
<line x1="201.17" y1="331.81" x2="209.50" y2="331.81"/>
<line x1="201.17" y1="324.14" x2="209.50" y2="324.14"/>
<line x1="201.17" y1="272.20" x2="209.50" y2="272.20"/>
<line x1="201.17" y1="245.82" x2="209.50" y2="245.82"/>
<line x1="201.17" y1="227.11" x2="209.50" y2="227.11"/>
<line x1="201.17" y1="212.59" x2="209.50" y2="212.59"/>
<line x1="201.17" y1="200.73" x2="209.50" y2="200.73"/>
<line x1="201.17" y1="190.70" x2="209.50" y2="190.70"/>
<line x1="201.17" y1="182.02" x2="209.50" y2="182.02"/>
<line x1="201.17" y1="174.35" x2="209.50" y2="174.35"/>
<line x1="201.17" y1="122.41" x2="209.50" y2="122.41"/>
</g>
<rect x="209.50" y="112.50" width="1643.00" height="1066.00" fill="none" stroke="#000" stroke-width="3.33" stroke-linejoin="miter"/>
<text x="108.6" y="1081.44" font-size="41.67">10<tspan font-size="29.17" dy="-15.7">1</tspan></text>
<text x="108.6" y="931.65" font-size="41.67">10<tspan font-size="29.17" dy="-15.7">2</tspan></text>
<text x="108.6" y="781.86" font-size="41.67">10<tspan font-size="29.17" dy="-15.7">3</tspan></text>
<text x="108.6" y="632.07" font-size="41.67">10<tspan font-size="29.17" dy="-15.7">4</tspan></text>
<text x="108.6" y="482.28" font-size="41.67">10<tspan font-size="29.17" dy="-15.7">5</tspan></text>
<text x="108.6" y="332.49" font-size="41.67">10<tspan font-size="29.17" dy="-15.7">6</tspan></text>
<text x="108.6" y="182.70" font-size="41.67">10<tspan font-size="29.17" dy="-15.7">7</tspan></text>
<text transform="translate(216.30,1271.5) rotate(-30)" x="0" y="10.95" text-anchor="middle" font-size="41.67">10-05 18</text>
<text transform="translate(358.12,1271.5) rotate(-30)" x="0" y="10.95" text-anchor="middle" font-size="41.67">10-05 19</text>
<text transform="translate(499.94,1271.5) rotate(-30)" x="0" y="10.95" text-anchor="middle" font-size="41.67">10-05 20</text>
<text transform="translate(641.76,1271.5) rotate(-30)" x="0" y="10.95" text-anchor="middle" font-size="41.67">10-05 21</text>
<text transform="translate(783.58,1271.5) rotate(-30)" x="0" y="10.95" text-anchor="middle" font-size="41.67">10-05 22</text>
<text transform="translate(925.40,1271.5) rotate(-30)" x="0" y="10.95" text-anchor="middle" font-size="41.67">10-05 23</text>
<text transform="translate(1067.22,1271.5) rotate(-30)" x="0" y="10.95" text-anchor="middle" font-size="41.67">10-06 00</text>
<text transform="translate(1209.04,1271.5) rotate(-30)" x="0" y="10.95" text-anchor="middle" font-size="41.67">10-06 01</text>
<text transform="translate(1350.86,1271.5) rotate(-30)" x="0" y="10.95" text-anchor="middle" font-size="41.67">10-06 02</text>
<text transform="translate(1492.68,1271.5) rotate(-30)" x="0" y="10.95" text-anchor="middle" font-size="41.67">10-06 03</text>
<text transform="translate(1634.50,1271.5) rotate(-30)" x="0" y="10.95" text-anchor="middle" font-size="41.67">10-06 04</text>
<text transform="translate(1776.32,1271.5) rotate(-30)" x="0" y="10.95" text-anchor="middle" font-size="41.67">10-06 05</text>
<text x="1031.2" y="1387" text-anchor="middle" font-size="41.67">Time</text>
<text transform="translate(81,645) rotate(-90)" x="0" y="0" text-anchor="middle" font-size="41.67">Peak ADU - average</text>
<text x="1030.5" y="87" text-anchor="middle" font-size="50">Deaveraged field sums for UK009R_20251005_175613_611253</text>
</svg></body></html>
